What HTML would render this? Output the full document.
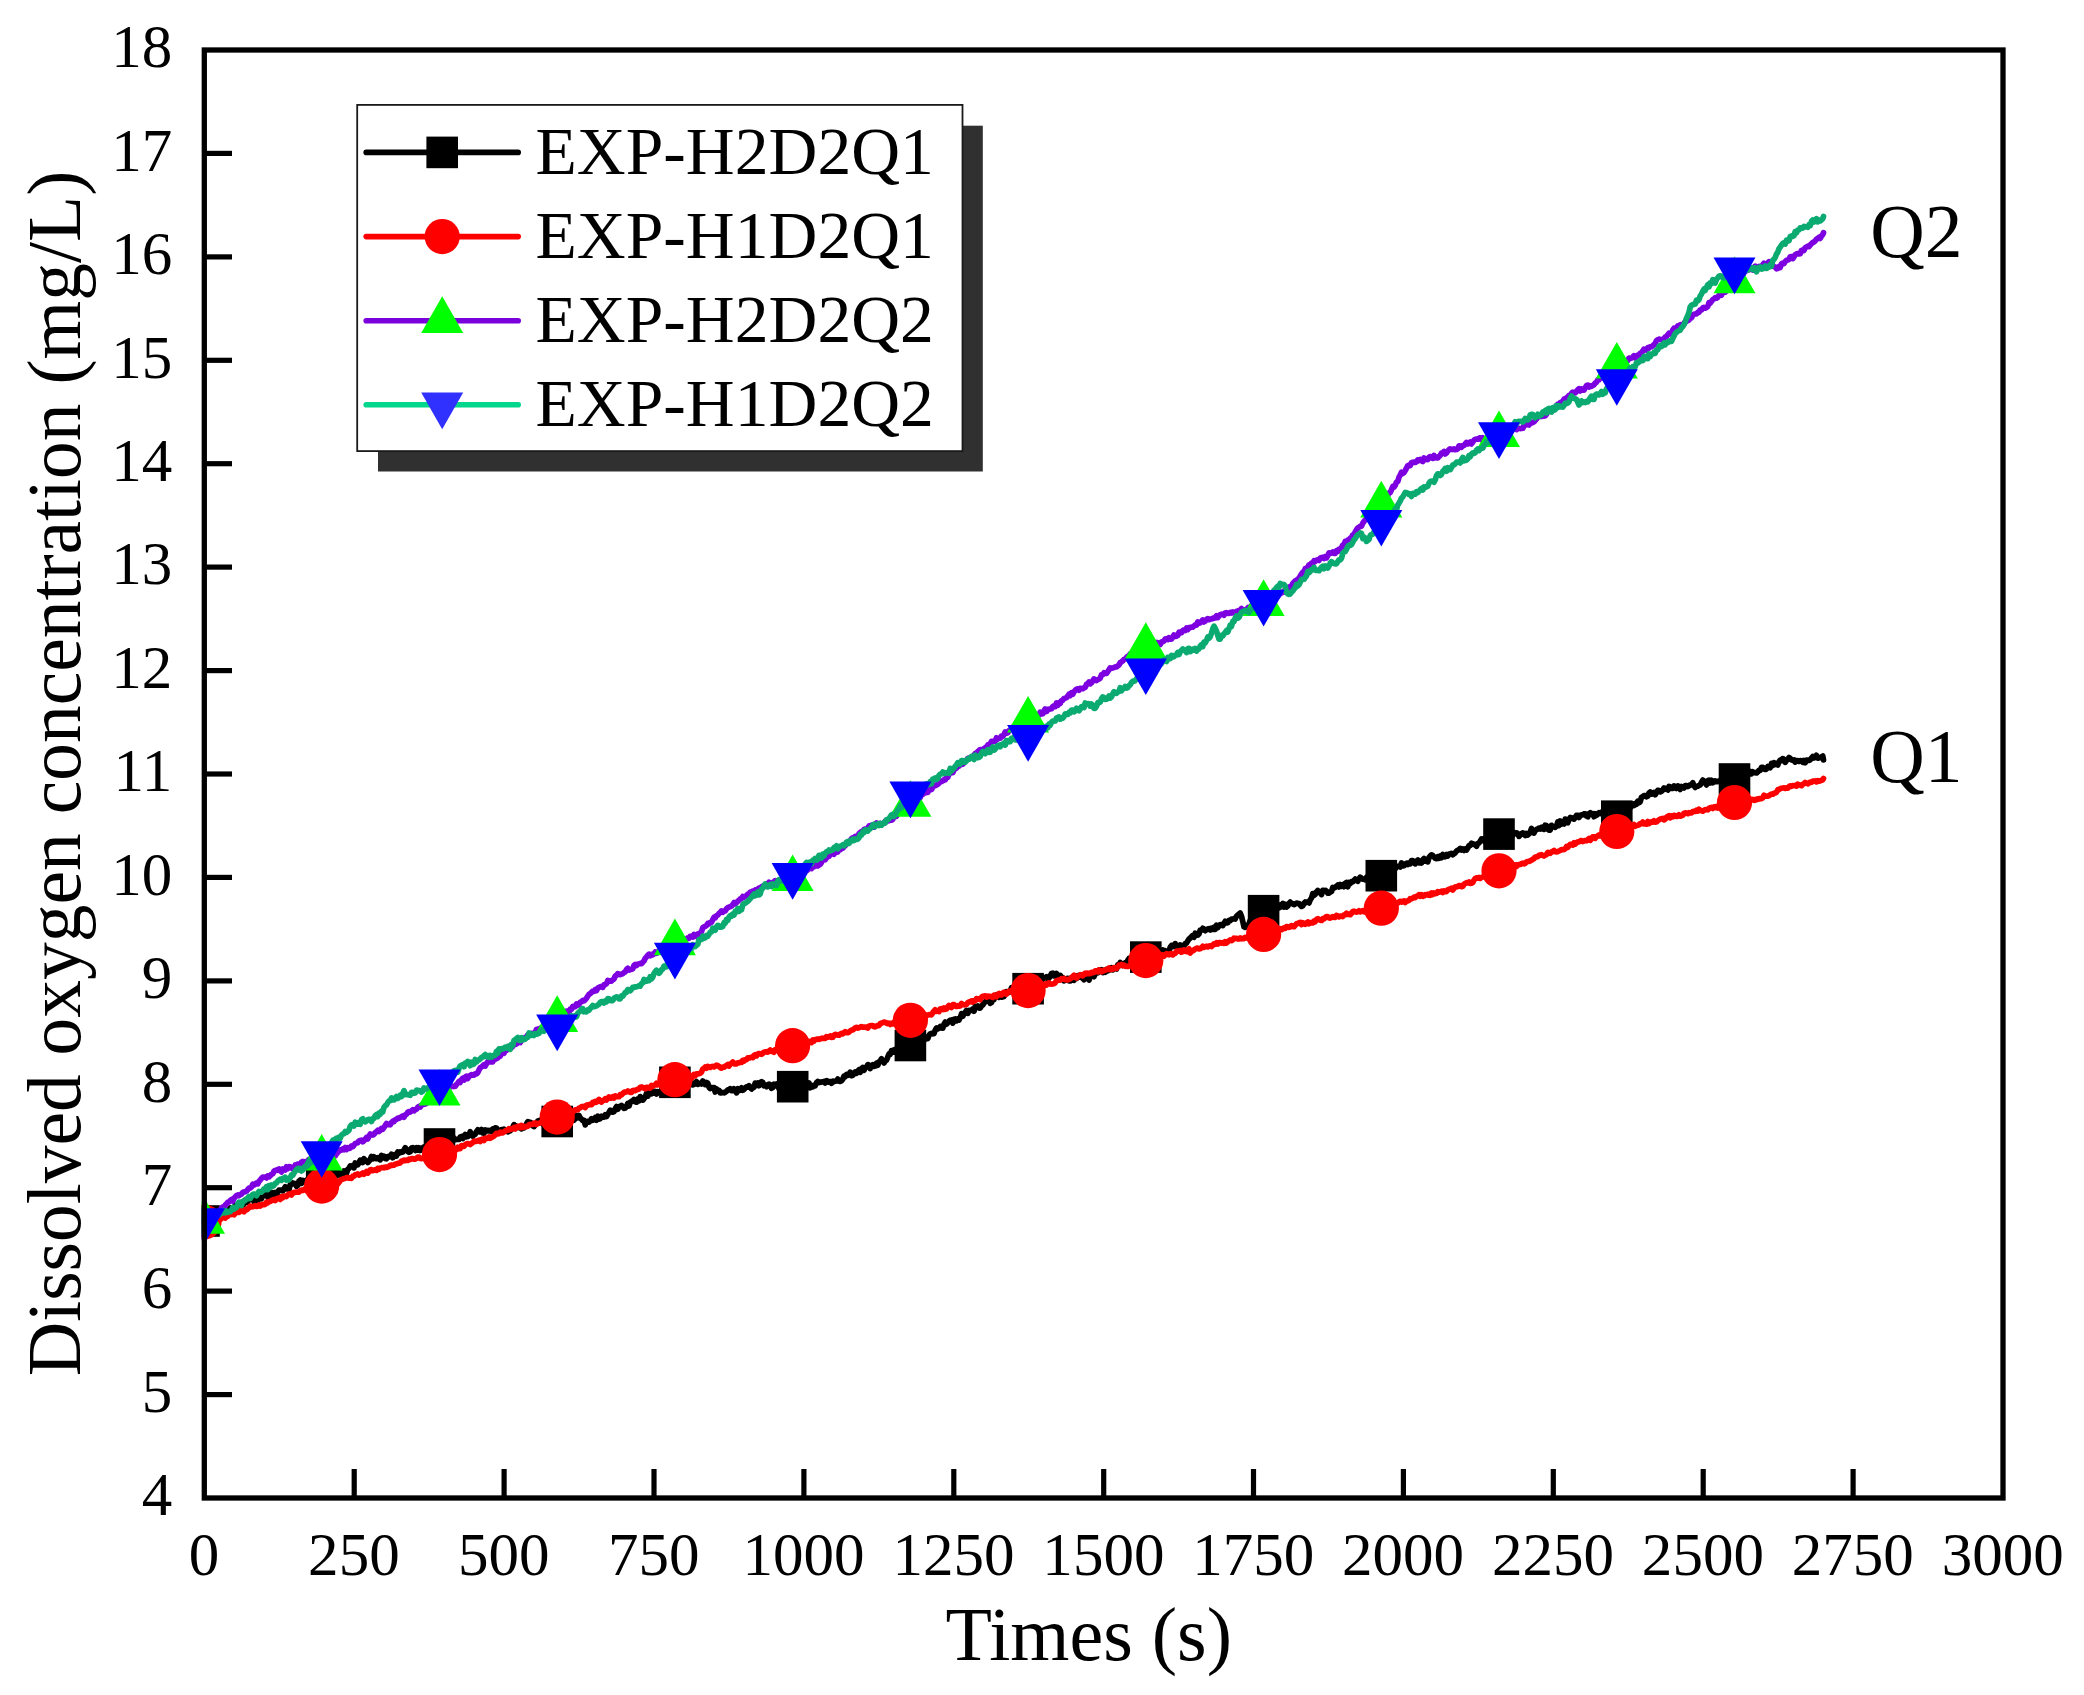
<!DOCTYPE html>
<html lang="en"><head><meta charset="utf-8"><title>Dissolved oxygen concentration</title>
<style>html,body{margin:0;padding:0;background:#fff}svg{display:block}text{font-family:'Liberation Serif',serif;fill:#000}</style></head><body>
<svg width="2084" height="1695" viewBox="0 0 2084 1695">
<rect width="2084" height="1695" fill="#fff"/>
<defs><clipPath id="plot"><rect x="201.7" y="50.0" width="1804.0" height="1448.0"/></clipPath></defs>
<g clip-path="url(#plot)">
<polyline fill="none" stroke="#000000" stroke-width="5.7" stroke-linejoin="round" stroke-linecap="round" points="204.0,1220.9 205.2,1222.6 206.5,1220.6 207.8,1218.1 209.0,1219.7 210.2,1216.5 211.5,1215.8 212.8,1217.3 214.0,1219.7 215.2,1218.2 216.5,1214.0 217.8,1213.9 219.0,1211.7 220.2,1210.1 221.5,1212.0 222.8,1212.6 224.0,1212.4 225.2,1211.3 226.5,1214.2 227.8,1213.8 229.0,1210.0 230.2,1208.0 231.5,1209.6 232.8,1210.0 234.0,1210.9 235.2,1205.3 236.5,1208.3 237.8,1208.9 239.0,1204.4 240.2,1206.1 241.5,1202.5 242.8,1206.2 244.0,1202.0 245.2,1200.0 246.5,1202.5 247.8,1201.7 249.0,1199.8 250.2,1198.9 251.5,1198.1 252.8,1197.7 254.0,1201.8 255.2,1199.6 256.5,1197.9 257.8,1200.6 259.0,1197.9 260.2,1196.7 261.5,1198.7 262.8,1195.8 264.0,1194.1 265.2,1194.3 266.5,1194.5 267.8,1197.2 269.0,1196.2 270.2,1192.9 271.5,1196.1 272.8,1192.6 274.0,1194.7 275.2,1192.6 276.5,1195.1 277.8,1192.2 279.0,1190.0 280.2,1190.1 281.5,1190.2 282.8,1190.9 284.0,1188.9 285.2,1186.8 286.5,1189.0 287.8,1188.9 289.0,1189.5 290.2,1184.6 291.5,1184.6 292.8,1182.9 294.0,1183.7 295.2,1183.5 296.5,1186.3 297.8,1185.2 299.0,1181.1 300.2,1180.0 301.5,1183.3 302.8,1180.4 304.0,1182.0 305.2,1182.0 306.5,1180.2 307.8,1183.4 309.0,1183.9 310.2,1184.5 311.5,1182.1 312.8,1184.3 314.0,1182.3 315.2,1183.5 316.5,1182.0 317.8,1181.2 319.0,1178.3 320.2,1182.3 321.5,1181.2 322.8,1180.8 324.0,1179.3 325.2,1176.9 326.5,1175.6 327.8,1176.7 329.0,1177.8 330.2,1178.0 331.5,1174.9 332.8,1174.5 334.0,1173.0 335.2,1176.4 336.5,1175.1 337.8,1174.0 339.0,1172.5 340.2,1175.6 341.5,1176.0 342.8,1174.0 344.0,1171.0 345.2,1173.8 346.5,1173.4 347.8,1169.4 349.0,1168.3 350.2,1165.9 351.5,1166.7 352.8,1165.4 354.0,1167.9 355.2,1162.9 356.5,1164.9 357.8,1164.8 359.0,1162.9 360.2,1160.1 361.5,1160.7 362.8,1162.5 364.0,1158.7 365.2,1160.3 366.5,1160.9 367.8,1162.5 369.0,1161.3 370.2,1159.4 371.5,1156.5 372.8,1158.7 374.0,1156.8 375.2,1158.4 376.5,1158.7 377.8,1157.7 379.0,1159.0 380.2,1159.8 381.5,1155.5 382.8,1157.4 384.0,1156.2 385.2,1158.5 386.5,1158.9 387.8,1156.7 389.0,1156.8 390.2,1156.3 391.5,1154.2 392.8,1157.7 394.0,1156.1 395.2,1154.6 396.5,1155.9 397.8,1151.9 399.0,1153.2 400.2,1151.9 401.5,1152.4 402.8,1152.0 404.0,1150.0 405.2,1147.7 406.5,1149.5 407.8,1151.6 409.0,1152.3 410.2,1151.7 411.5,1148.0 412.8,1147.6 414.0,1149.1 415.2,1150.4 416.5,1147.6 417.8,1150.1 419.0,1147.7 420.2,1150.5 421.5,1148.5 422.8,1147.7 424.0,1146.9 425.2,1148.7 426.5,1146.6 427.8,1146.6 429.0,1146.3 430.2,1145.5 431.5,1148.0 432.8,1144.7 434.0,1142.9 435.2,1146.4 436.5,1144.9 437.8,1143.2 439.0,1145.6 440.2,1144.6 441.5,1140.9 442.8,1142.1 444.0,1140.8 445.2,1139.2 446.5,1138.5 447.8,1138.2 449.0,1139.3 450.2,1138.4 451.5,1138.2 452.8,1136.7 454.0,1138.2 455.2,1139.7 456.5,1139.4 457.8,1139.3 459.0,1139.4 460.2,1137.1 461.5,1136.4 462.8,1138.5 464.0,1136.0 465.2,1134.5 466.5,1136.9 467.8,1136.5 469.0,1134.8 470.2,1131.7 471.5,1135.0 472.8,1136.3 474.0,1134.7 475.2,1134.3 476.5,1131.6 477.8,1129.8 479.0,1131.8 480.2,1131.7 481.5,1129.4 482.8,1133.0 484.0,1133.3 485.2,1129.9 486.5,1131.1 487.8,1130.3 489.0,1130.8 490.2,1130.4 491.5,1131.6 492.8,1128.9 494.0,1130.7 495.2,1127.9 496.5,1128.1 497.8,1130.8 499.0,1130.9 500.2,1130.1 501.5,1129.6 502.8,1131.8 504.0,1129.1 505.2,1130.8 506.5,1131.1 507.8,1131.9 509.0,1131.1 510.2,1130.7 511.5,1129.4 512.8,1127.2 514.0,1124.6 515.2,1127.2 516.5,1126.2 517.8,1127.4 519.0,1127.6 520.2,1126.6 521.5,1128.8 522.8,1127.9 524.0,1128.0 525.2,1126.5 526.5,1123.9 527.8,1121.6 529.0,1122.0 530.2,1122.2 531.5,1123.4 532.8,1125.8 534.0,1126.5 535.2,1124.8 536.5,1123.8 537.8,1121.1 539.0,1120.5 540.2,1120.3 541.5,1121.7 542.8,1123.9 544.0,1122.5 545.2,1120.9 546.5,1122.2 547.8,1121.0 549.0,1119.8 550.2,1118.8 551.5,1118.8 552.8,1120.6 554.0,1121.9 555.2,1124.4 556.5,1120.8 557.8,1121.2 559.0,1123.3 560.2,1122.2 561.5,1122.3 562.8,1123.8 564.0,1121.2 565.2,1120.5 566.5,1117.3 567.8,1117.5 569.0,1117.5 570.2,1116.9 571.5,1117.3 572.8,1118.3 574.0,1120.2 575.2,1118.5 576.5,1115.5 577.8,1117.8 579.0,1115.6 580.2,1117.9 581.5,1119.1 582.8,1120.6 584.0,1120.3 585.2,1124.9 586.5,1121.5 587.8,1121.4 589.0,1122.1 590.2,1121.0 591.5,1118.7 592.8,1120.2 594.0,1119.3 595.2,1117.6 596.5,1120.2 597.8,1116.3 599.0,1119.1 600.2,1118.7 601.5,1116.3 602.8,1117.2 604.0,1117.1 605.2,1114.8 606.5,1116.5 607.8,1114.4 609.0,1112.3 610.2,1110.3 611.5,1112.0 612.8,1112.2 614.0,1111.7 615.2,1108.8 616.5,1106.6 617.8,1109.3 619.0,1106.7 620.2,1106.6 621.5,1105.4 622.8,1106.8 624.0,1108.4 625.2,1108.0 626.5,1106.6 627.8,1103.4 629.0,1106.0 630.2,1102.3 631.5,1101.4 632.8,1100.8 634.0,1099.4 635.2,1101.8 636.5,1102.2 637.8,1099.0 639.0,1100.8 640.2,1096.6 641.5,1097.8 642.8,1100.1 644.0,1098.6 645.2,1097.2 646.5,1093.3 647.8,1096.1 649.0,1093.0 650.2,1092.5 651.5,1093.8 652.8,1092.1 654.0,1093.0 655.2,1091.6 656.5,1094.0 657.8,1091.7 659.0,1092.0 660.2,1092.3 661.5,1091.7 662.8,1091.6 664.0,1091.4 665.2,1091.4 666.5,1088.8 667.8,1088.8 669.0,1085.7 670.2,1087.0 671.5,1084.1 672.8,1082.1 674.0,1082.3 675.2,1080.3 676.5,1080.5 677.8,1083.2 679.0,1080.4 680.2,1083.1 681.5,1080.1 682.8,1079.9 684.0,1080.7 685.2,1082.2 686.5,1080.4 687.8,1080.5 689.0,1081.2 690.2,1083.9 691.5,1082.4 692.8,1084.9 694.0,1084.4 695.2,1083.2 696.5,1081.6 697.8,1084.4 699.0,1083.8 700.2,1083.1 701.5,1084.0 702.8,1081.0 704.0,1082.5 705.2,1084.5 706.5,1082.5 707.8,1083.3 709.0,1087.2 710.2,1088.5 711.5,1087.5 712.8,1087.7 714.0,1087.5 715.2,1092.0 716.5,1088.8 717.8,1090.7 719.0,1090.3 720.2,1092.9 721.5,1092.8 722.8,1092.6 724.0,1092.8 725.2,1092.3 726.5,1091.3 727.8,1089.9 729.0,1090.0 730.2,1088.7 731.5,1090.6 732.8,1090.6 734.0,1088.8 735.2,1090.7 736.5,1092.8 737.8,1088.7 739.0,1090.6 740.2,1090.1 741.5,1087.8 742.8,1090.3 744.0,1089.5 745.2,1088.1 746.5,1086.8 747.8,1087.1 749.0,1085.7 750.2,1087.5 751.5,1089.0 752.8,1087.8 754.0,1087.3 755.2,1083.1 756.5,1085.3 757.8,1082.9 759.0,1085.7 760.2,1082.4 761.5,1081.7 762.8,1082.5 764.0,1085.7 765.2,1084.9 766.5,1086.7 767.8,1085.0 769.0,1084.1 770.2,1084.6 771.5,1088.2 772.8,1087.7 774.0,1084.1 775.2,1085.2 776.5,1084.1 777.8,1086.4 779.0,1088.6 780.2,1086.1 781.5,1089.1 782.8,1087.0 784.0,1085.7 785.2,1089.4 786.5,1089.4 787.8,1087.3 789.0,1088.0 790.2,1085.1 791.5,1087.2 792.8,1087.0 794.0,1086.7 795.2,1086.0 796.5,1086.0 797.8,1087.7 799.0,1087.6 800.2,1090.0 801.5,1089.8 802.8,1086.5 804.0,1086.7 805.2,1086.1 806.5,1088.1 807.8,1086.5 809.0,1083.0 810.2,1087.8 811.5,1086.7 812.8,1086.8 814.0,1085.1 815.2,1085.7 816.5,1082.8 817.8,1081.4 819.0,1082.6 820.2,1082.2 821.5,1082.1 822.8,1081.7 824.0,1081.4 825.2,1083.0 826.5,1080.7 827.8,1081.2 829.0,1082.2 830.2,1081.6 831.5,1083.3 832.8,1081.1 834.0,1081.7 835.2,1081.2 836.5,1080.9 837.8,1079.0 839.0,1081.2 840.2,1081.4 841.5,1080.9 842.8,1079.1 844.0,1076.1 845.2,1076.7 846.5,1074.4 847.8,1075.3 849.0,1073.9 850.2,1072.2 851.5,1075.7 852.8,1075.3 854.0,1073.8 855.2,1072.1 856.5,1073.3 857.8,1070.9 859.0,1069.7 860.2,1072.3 861.5,1068.8 862.8,1067.4 864.0,1070.3 865.2,1067.7 866.5,1067.0 867.8,1064.6 869.0,1064.9 870.2,1068.5 871.5,1065.9 872.8,1064.8 874.0,1066.4 875.2,1066.0 876.5,1063.2 877.8,1065.2 879.0,1061.8 880.2,1061.0 881.5,1058.8 882.8,1061.1 884.0,1062.9 885.2,1061.0 886.5,1060.3 887.8,1056.9 889.0,1054.0 890.2,1054.4 891.5,1050.7 892.8,1052.0 894.0,1050.1 895.2,1052.1 896.5,1048.6 897.8,1051.4 899.0,1048.6 900.2,1047.4 901.5,1048.3 902.8,1047.8 904.0,1047.7 905.2,1046.2 906.5,1044.2 907.8,1046.5 909.0,1044.6 910.2,1044.0 911.5,1046.5 912.8,1044.6 914.0,1043.9 915.2,1043.0 916.5,1043.0 917.8,1041.7 919.0,1042.9 920.2,1041.9 921.5,1041.8 922.8,1042.1 924.0,1040.4 925.2,1038.5 926.5,1037.3 927.8,1038.6 929.0,1035.3 930.2,1033.9 931.5,1033.4 932.8,1033.8 934.0,1033.6 935.2,1030.1 936.5,1027.9 937.8,1028.8 939.0,1028.0 940.2,1026.6 941.5,1027.9 942.8,1028.2 944.0,1024.2 945.2,1022.1 946.5,1024.2 947.8,1022.6 949.0,1021.3 950.2,1020.3 951.5,1020.0 952.8,1023.1 954.0,1019.2 955.2,1018.9 956.5,1020.8 957.8,1019.1 959.0,1020.0 960.2,1017.6 961.5,1013.8 962.8,1016.2 964.0,1013.7 965.2,1012.3 966.5,1010.5 967.8,1013.4 969.0,1010.4 970.2,1010.5 971.5,1010.4 972.8,1008.9 974.0,1011.3 975.2,1006.5 976.5,1007.3 977.8,1006.1 979.0,1008.1 980.2,1008.1 981.5,1005.8 982.8,1004.9 984.0,1003.0 985.2,1001.9 986.5,1000.6 987.8,1000.1 989.0,1000.0 990.2,1003.3 991.5,1002.6 992.8,999.1 994.0,999.5 995.2,996.5 996.5,994.9 997.8,996.2 999.0,997.3 1000.2,995.0 1001.5,997.1 1002.8,996.9 1004.0,996.5 1005.2,993.2 1006.5,991.6 1007.8,992.4 1009.0,992.4 1010.2,991.1 1011.5,987.8 1012.8,988.6 1014.0,986.8 1015.2,987.1 1016.5,988.1 1017.8,989.0 1019.0,985.9 1020.2,986.4 1021.5,986.9 1022.8,989.1 1024.0,986.8 1025.2,985.2 1026.5,984.5 1027.8,987.6 1029.0,989.6 1030.2,988.9 1031.5,986.1 1032.8,987.8 1034.0,988.1 1035.2,985.9 1036.5,983.9 1037.8,981.0 1039.0,981.3 1040.2,980.2 1041.5,980.3 1042.8,979.0 1044.0,977.9 1045.2,977.9 1046.5,976.7 1047.8,978.8 1049.0,978.2 1050.2,976.1 1051.5,973.5 1052.8,973.1 1054.0,975.9 1055.2,975.1 1056.5,973.4 1057.8,977.8 1059.0,976.2 1060.2,975.4 1061.5,978.2 1062.8,977.6 1064.0,980.9 1065.2,980.2 1066.5,978.7 1067.8,978.3 1069.0,980.9 1070.2,981.0 1071.5,977.5 1072.8,977.3 1074.0,980.3 1075.2,977.0 1076.5,978.6 1077.8,975.6 1079.0,976.3 1080.2,977.2 1081.5,977.7 1082.8,978.2 1084.0,979.7 1085.2,977.5 1086.5,976.6 1087.8,978.2 1089.0,980.1 1090.2,976.2 1091.5,976.5 1092.8,975.3 1094.0,976.7 1095.2,973.8 1096.5,972.9 1097.8,972.9 1099.0,970.1 1100.2,970.0 1101.5,969.7 1102.8,972.6 1104.0,970.5 1105.2,972.2 1106.5,969.4 1107.8,970.9 1109.0,970.2 1110.2,969.6 1111.5,967.7 1112.8,969.8 1114.0,968.2 1115.2,968.4 1116.5,969.0 1117.8,964.8 1119.0,965.7 1120.2,962.4 1121.5,964.2 1122.8,965.4 1124.0,963.9 1125.2,962.8 1126.5,964.5 1127.8,960.4 1129.0,958.6 1130.2,959.4 1131.5,962.2 1132.8,958.8 1134.0,959.1 1135.2,957.9 1136.5,960.3 1137.8,957.8 1139.0,959.1 1140.2,960.8 1141.5,959.7 1142.8,959.1 1144.0,955.2 1145.2,957.7 1146.5,955.5 1147.8,953.5 1149.0,953.8 1150.2,954.0 1151.5,952.1 1152.8,951.9 1154.0,949.7 1155.2,953.3 1156.5,949.7 1157.8,951.7 1159.0,951.1 1160.2,951.8 1161.5,953.3 1162.8,949.9 1164.0,952.0 1165.2,950.8 1166.5,953.6 1167.8,951.9 1169.0,951.6 1170.2,947.2 1171.5,945.6 1172.8,946.6 1174.0,946.1 1175.2,943.6 1176.5,946.7 1177.8,945.8 1179.0,946.7 1180.2,944.9 1181.5,946.5 1182.8,946.4 1184.0,945.8 1185.2,943.7 1186.5,943.1 1187.8,940.8 1189.0,939.0 1190.2,938.1 1191.5,936.6 1192.8,935.4 1194.0,937.3 1195.2,933.2 1196.5,934.8 1197.8,935.1 1199.0,934.0 1200.2,930.1 1201.5,930.2 1202.8,928.3 1204.0,929.3 1205.2,930.7 1206.5,929.4 1207.8,929.5 1209.0,928.6 1210.2,929.9 1211.5,928.2 1212.8,929.2 1214.0,927.2 1215.2,929.3 1216.5,925.3 1217.8,927.5 1219.0,925.8 1220.2,924.7 1221.5,924.7 1222.8,925.6 1224.0,923.7 1225.2,921.3 1226.5,922.9 1227.8,922.6 1229.0,920.3 1230.2,920.6 1231.5,919.1 1232.8,919.1 1234.0,918.8 1235.2,919.1 1236.5,916.2 1237.8,914.9 1239.0,914.1 1240.2,912.9 1241.5,916.3 1242.8,921.6 1244.0,926.8 1245.2,927.4 1246.5,925.9 1247.8,925.0 1249.0,924.0 1250.2,920.3 1251.5,919.6 1252.8,920.2 1254.0,917.1 1255.2,914.6 1256.5,916.9 1257.8,914.5 1259.0,916.5 1260.2,915.2 1261.5,914.6 1262.8,911.1 1264.0,908.0 1265.2,911.9 1266.5,908.2 1267.8,909.1 1269.0,910.7 1270.2,908.6 1271.5,908.4 1272.8,911.6 1274.0,908.8 1275.2,908.0 1276.5,907.0 1277.8,907.6 1279.0,907.9 1280.2,904.9 1281.5,906.7 1282.8,903.5 1284.0,907.0 1285.2,904.3 1286.5,907.1 1287.8,906.1 1289.0,903.4 1290.2,902.1 1291.5,903.6 1292.8,903.5 1294.0,904.6 1295.2,904.0 1296.5,903.1 1297.8,903.4 1299.0,903.6 1300.2,905.1 1301.5,906.4 1302.8,905.7 1304.0,903.1 1305.2,902.0 1306.5,902.6 1307.8,901.9 1309.0,902.9 1310.2,899.9 1311.5,898.0 1312.8,893.6 1314.0,895.4 1315.2,894.4 1316.5,891.9 1317.8,890.5 1319.0,891.7 1320.2,892.8 1321.5,894.6 1322.8,890.3 1324.0,890.8 1325.2,890.3 1326.5,891.1 1327.8,893.2 1329.0,893.1 1330.2,892.1 1331.5,891.5 1332.8,887.5 1334.0,888.0 1335.2,887.4 1336.5,886.3 1337.8,885.1 1339.0,886.9 1340.2,884.5 1341.5,886.2 1342.8,884.8 1344.0,886.7 1345.2,883.5 1346.5,882.4 1347.8,886.8 1349.0,882.4 1350.2,883.5 1351.5,881.7 1352.8,881.7 1354.0,880.4 1355.2,879.1 1356.5,880.2 1357.8,881.2 1359.0,878.8 1360.2,877.2 1361.5,878.3 1362.8,879.2 1364.0,879.0 1365.2,879.7 1366.5,877.2 1367.8,879.6 1369.0,876.8 1370.2,875.4 1371.5,878.1 1372.8,875.6 1374.0,873.6 1375.2,875.3 1376.5,877.6 1377.8,874.6 1379.0,873.5 1380.2,874.0 1381.5,874.7 1382.8,876.5 1384.0,877.8 1385.2,876.0 1386.5,873.8 1387.8,874.2 1389.0,871.9 1390.2,871.3 1391.5,870.4 1392.8,868.4 1394.0,867.3 1395.2,868.8 1396.5,866.5 1397.8,866.2 1399.0,866.0 1400.2,867.0 1401.5,863.0 1402.8,865.9 1404.0,865.7 1405.2,864.2 1406.5,863.3 1407.8,864.4 1409.0,862.9 1410.2,863.8 1411.5,860.6 1412.8,860.5 1414.0,863.1 1415.2,863.8 1416.5,861.2 1417.8,860.1 1419.0,862.8 1420.2,861.2 1421.5,863.0 1422.8,859.8 1424.0,858.6 1425.2,861.2 1426.5,860.9 1427.8,861.8 1429.0,857.6 1430.2,856.1 1431.5,854.8 1432.8,855.5 1434.0,856.9 1435.2,858.3 1436.5,858.6 1437.8,856.8 1439.0,858.3 1440.2,856.0 1441.5,857.8 1442.8,854.5 1444.0,855.3 1445.2,856.8 1446.5,854.6 1447.8,855.9 1449.0,854.1 1450.2,853.9 1451.5,853.3 1452.8,854.7 1454.0,853.8 1455.2,852.9 1456.5,851.0 1457.8,850.3 1459.0,849.5 1460.2,848.4 1461.5,850.0 1462.8,849.0 1464.0,850.4 1465.2,849.0 1466.5,850.0 1467.8,848.0 1469.0,845.5 1470.2,845.5 1471.5,843.2 1472.8,844.0 1474.0,844.1 1475.2,845.0 1476.5,846.2 1477.8,843.4 1479.0,843.1 1480.2,841.1 1481.5,839.0 1482.8,840.6 1484.0,838.8 1485.2,841.7 1486.5,840.6 1487.8,839.6 1489.0,836.3 1490.2,836.6 1491.5,837.6 1492.8,838.8 1494.0,837.3 1495.2,838.4 1496.5,835.4 1497.8,835.9 1499.0,832.5 1500.2,833.1 1501.5,831.8 1502.8,830.9 1504.0,831.1 1505.2,831.4 1506.5,834.0 1507.8,835.5 1509.0,834.5 1510.2,834.9 1511.5,835.3 1512.8,835.4 1514.0,832.5 1515.2,833.5 1516.5,832.8 1517.8,833.6 1519.0,836.4 1520.2,834.9 1521.5,833.5 1522.8,832.9 1524.0,834.4 1525.2,835.5 1526.5,833.6 1527.8,835.0 1529.0,833.9 1530.2,832.0 1531.5,828.5 1532.8,832.6 1534.0,833.1 1535.2,830.6 1536.5,829.5 1537.8,829.0 1539.0,828.1 1540.2,828.9 1541.5,827.2 1542.8,827.0 1544.0,829.4 1545.2,825.2 1546.5,825.5 1547.8,829.1 1549.0,830.2 1550.2,830.1 1551.5,825.3 1552.8,826.8 1554.0,826.9 1555.2,827.4 1556.5,826.0 1557.8,821.9 1559.0,825.6 1560.2,820.9 1561.5,824.0 1562.8,822.9 1564.0,823.9 1565.2,819.1 1566.5,822.5 1567.8,822.8 1569.0,819.7 1570.2,817.5 1571.5,817.8 1572.8,818.5 1574.0,819.1 1575.2,817.3 1576.5,815.4 1577.8,815.3 1579.0,817.5 1580.2,815.4 1581.5,814.8 1582.8,815.0 1584.0,813.9 1585.2,813.8 1586.5,816.1 1587.8,816.8 1589.0,813.6 1590.2,812.8 1591.5,814.2 1592.8,813.6 1594.0,816.7 1595.2,813.8 1596.5,815.4 1597.8,813.6 1599.0,812.6 1600.2,813.7 1601.5,813.4 1602.8,811.1 1604.0,811.8 1605.2,814.5 1606.5,812.7 1607.8,816.8 1609.0,815.3 1610.2,814.2 1611.5,817.4 1612.8,814.8 1614.0,818.3 1615.2,819.4 1616.5,816.4 1617.8,815.3 1619.0,812.4 1620.2,811.9 1621.5,810.6 1622.8,809.0 1624.0,810.3 1625.2,811.1 1626.5,811.0 1627.8,806.3 1629.0,805.6 1630.2,807.9 1631.5,803.8 1632.8,804.0 1634.0,805.5 1635.2,803.5 1636.5,804.2 1637.8,801.1 1639.0,802.7 1640.2,801.7 1641.5,797.1 1642.8,796.7 1644.0,795.6 1645.2,795.7 1646.5,796.9 1647.8,796.1 1649.0,793.1 1650.2,791.9 1651.5,794.1 1652.8,793.9 1654.0,792.5 1655.2,794.8 1656.5,792.6 1657.8,790.3 1659.0,790.6 1660.2,791.9 1661.5,791.2 1662.8,790.1 1664.0,787.9 1665.2,789.2 1666.5,788.5 1667.8,790.0 1669.0,786.5 1670.2,787.0 1671.5,788.5 1672.8,788.5 1674.0,785.9 1675.2,786.6 1676.5,788.5 1677.8,785.9 1679.0,787.2 1680.2,789.4 1681.5,786.5 1682.8,787.2 1684.0,788.0 1685.2,785.6 1686.5,785.7 1687.8,786.5 1689.0,785.8 1690.2,784.8 1691.5,784.9 1692.8,782.7 1694.0,785.7 1695.2,787.5 1696.5,786.3 1697.8,786.1 1699.0,785.5 1700.2,784.9 1701.5,782.3 1702.8,780.1 1704.0,781.3 1705.2,783.1 1706.5,784.9 1707.8,780.7 1709.0,780.2 1710.2,783.0 1711.5,780.3 1712.8,782.8 1714.0,781.5 1715.2,780.8 1716.5,781.7 1717.8,781.7 1719.0,780.9 1720.2,780.8 1721.5,779.1 1722.8,776.3 1724.0,779.3 1725.2,779.9 1726.5,780.2 1727.8,778.0 1729.0,777.2 1730.2,780.1 1731.5,779.5 1732.8,781.6 1734.0,782.6 1735.2,782.9 1736.5,778.8 1737.8,778.4 1739.0,776.0 1740.2,777.3 1741.5,777.8 1742.8,775.1 1744.0,773.9 1745.2,771.7 1746.5,772.6 1747.8,775.7 1749.0,773.2 1750.2,771.4 1751.5,773.7 1752.8,771.8 1754.0,772.7 1755.2,772.7 1756.5,773.0 1757.8,771.9 1759.0,770.4 1760.2,770.4 1761.5,767.4 1762.8,767.3 1764.0,768.9 1765.2,769.5 1766.5,769.0 1767.8,766.5 1769.0,766.8 1770.2,767.8 1771.5,763.5 1772.8,765.4 1774.0,762.7 1775.2,764.5 1776.5,763.9 1777.8,764.9 1779.0,761.8 1780.2,760.2 1781.5,760.7 1782.8,758.6 1784.0,759.2 1785.2,762.3 1786.5,760.4 1787.8,759.5 1789.0,757.5 1790.2,758.4 1791.5,759.8 1792.8,760.3 1794.0,760.0 1795.2,762.0 1796.5,760.6 1797.8,760.5 1799.0,761.3 1800.2,760.5 1801.5,760.7 1802.8,762.3 1804.0,760.4 1805.2,762.7 1806.5,760.1 1807.8,760.2 1809.0,760.5 1810.2,759.8 1811.5,758.1 1812.8,756.5 1814.0,758.0 1815.2,757.4 1816.5,755.3 1817.8,758.2 1819.0,757.8 1820.2,757.6 1821.5,756.9 1822.8,756.0 1823.5,759.9"/>
<g fill="#000000">
<rect x="188.2" y="1205.2" width="31.6" height="31.6"/>
<rect x="305.9" y="1162.2" width="31.6" height="31.6"/>
<rect x="423.7" y="1128.2" width="31.6" height="31.6"/>
<rect x="541.4" y="1105.7" width="31.6" height="31.6"/>
<rect x="659.1" y="1066.5" width="31.6" height="31.6"/>
<rect x="776.9" y="1070.9" width="31.6" height="31.6"/>
<rect x="894.6" y="1029.7" width="31.6" height="31.6"/>
<rect x="1012.3" y="972.9" width="31.6" height="31.6"/>
<rect x="1130.0" y="941.3" width="31.6" height="31.6"/>
<rect x="1247.8" y="894.9" width="31.6" height="31.6"/>
<rect x="1365.5" y="859.9" width="31.6" height="31.6"/>
<rect x="1483.2" y="818.3" width="31.6" height="31.6"/>
<rect x="1601.0" y="800.4" width="31.6" height="31.6"/>
<rect x="1718.7" y="763.2" width="31.6" height="31.6"/>
</g>
<polyline fill="none" stroke="#ff0000" stroke-width="5.7" stroke-linejoin="round" stroke-linecap="round" points="204.0,1222.9 205.2,1220.8 206.5,1220.0 207.8,1220.8 209.0,1221.3 210.2,1221.3 211.5,1220.5 212.8,1220.6 214.0,1219.9 215.2,1220.1 216.5,1218.1 217.8,1219.0 219.0,1219.5 220.2,1219.4 221.5,1218.4 222.8,1217.1 224.0,1216.7 225.2,1218.1 226.5,1216.2 227.8,1216.4 229.0,1214.4 230.2,1213.9 231.5,1214.6 232.8,1214.2 234.0,1214.9 235.2,1213.3 236.5,1212.4 237.8,1212.4 239.0,1212.4 240.2,1210.9 241.5,1210.6 242.8,1210.7 244.0,1211.7 245.2,1209.7 246.5,1210.0 247.8,1208.8 249.0,1207.5 250.2,1206.1 251.5,1206.8 252.8,1206.7 254.0,1206.3 255.2,1205.6 256.5,1206.5 257.8,1206.3 259.0,1205.1 260.2,1206.1 261.5,1204.7 262.8,1204.4 264.0,1204.7 265.2,1204.3 266.5,1202.1 267.8,1202.8 269.0,1201.6 270.2,1201.4 271.5,1200.4 272.8,1200.3 274.0,1199.4 275.2,1200.5 276.5,1198.7 277.8,1198.4 279.0,1198.0 280.2,1199.4 281.5,1196.8 282.8,1197.7 284.0,1196.0 285.2,1196.0 286.5,1196.5 287.8,1194.9 289.0,1193.9 290.2,1194.3 291.5,1195.0 292.8,1192.6 294.0,1192.8 295.2,1192.1 296.5,1192.1 297.8,1192.1 299.0,1192.1 300.2,1190.8 301.5,1190.1 302.8,1190.5 304.0,1189.5 305.2,1188.8 306.5,1190.4 307.8,1189.4 309.0,1189.0 310.2,1187.8 311.5,1189.0 312.8,1188.9 314.0,1189.1 315.2,1187.8 316.5,1188.1 317.8,1187.4 319.0,1185.3 320.2,1185.2 321.5,1185.8 322.8,1184.7 324.0,1186.1 325.2,1185.5 326.5,1184.0 327.8,1185.2 329.0,1185.1 330.2,1182.6 331.5,1183.3 332.8,1184.1 334.0,1183.4 335.2,1182.5 336.5,1183.6 337.8,1183.7 339.0,1182.4 340.2,1180.5 341.5,1179.5 342.8,1179.1 344.0,1178.5 345.2,1178.4 346.5,1177.5 347.8,1177.5 349.0,1178.2 350.2,1177.8 351.5,1178.4 352.8,1176.2 354.0,1176.2 355.2,1174.8 356.5,1174.4 357.8,1173.9 359.0,1175.1 360.2,1174.6 361.5,1173.9 362.8,1173.0 364.0,1174.2 365.2,1173.1 366.5,1171.6 367.8,1173.1 369.0,1171.7 370.2,1169.8 371.5,1169.6 372.8,1170.7 374.0,1170.2 375.2,1169.8 376.5,1170.4 377.8,1168.4 379.0,1169.2 380.2,1168.0 381.5,1167.8 382.8,1167.5 384.0,1167.8 385.2,1167.0 386.5,1167.5 387.8,1166.9 389.0,1166.6 390.2,1165.3 391.5,1165.2 392.8,1165.3 394.0,1165.1 395.2,1164.0 396.5,1164.0 397.8,1163.4 399.0,1163.2 400.2,1162.9 401.5,1161.0 402.8,1161.0 404.0,1160.1 405.2,1160.7 406.5,1160.2 407.8,1160.4 409.0,1159.2 410.2,1159.5 411.5,1158.5 412.8,1158.5 414.0,1159.1 415.2,1159.1 416.5,1158.3 417.8,1157.1 419.0,1157.1 420.2,1158.5 421.5,1158.6 422.8,1158.1 424.0,1157.5 425.2,1157.1 426.5,1156.8 427.8,1156.3 429.0,1158.0 430.2,1158.3 431.5,1156.7 432.8,1157.7 434.0,1156.2 435.2,1154.7 436.5,1156.1 437.8,1154.8 439.0,1155.3 440.2,1154.0 441.5,1152.9 442.8,1153.2 444.0,1152.9 445.2,1151.0 446.5,1151.2 447.8,1152.4 449.0,1151.2 450.2,1151.5 451.5,1149.5 452.8,1148.7 454.0,1148.4 455.2,1149.4 456.5,1149.6 457.8,1147.2 459.0,1148.4 460.2,1148.6 461.5,1145.6 462.8,1145.8 464.0,1146.4 465.2,1144.8 466.5,1143.8 467.8,1143.6 469.0,1143.9 470.2,1144.5 471.5,1143.4 472.8,1142.4 474.0,1141.2 475.2,1141.2 476.5,1141.4 477.8,1140.6 479.0,1140.2 480.2,1141.4 481.5,1139.3 482.8,1139.2 484.0,1140.4 485.2,1138.2 486.5,1138.5 487.8,1138.2 489.0,1136.9 490.2,1138.3 491.5,1137.6 492.8,1136.8 494.0,1136.1 495.2,1134.8 496.5,1133.4 497.8,1133.8 499.0,1133.7 500.2,1132.2 501.5,1132.8 502.8,1132.9 504.0,1131.9 505.2,1131.0 506.5,1130.2 507.8,1130.3 509.0,1128.7 510.2,1129.5 511.5,1128.7 512.8,1128.9 514.0,1127.6 515.2,1128.9 516.5,1127.3 517.8,1126.5 519.0,1126.2 520.2,1127.6 521.5,1125.5 522.8,1127.4 524.0,1126.3 525.2,1126.8 526.5,1126.3 527.8,1126.3 529.0,1124.8 530.2,1124.4 531.5,1124.3 532.8,1124.4 534.0,1123.1 535.2,1123.1 536.5,1124.3 537.8,1123.4 539.0,1123.2 540.2,1122.9 541.5,1121.9 542.8,1122.2 544.0,1122.6 545.2,1122.6 546.5,1121.1 547.8,1119.1 549.0,1120.4 550.2,1120.0 551.5,1119.3 552.8,1118.5 554.0,1117.9 555.2,1116.2 556.5,1115.8 557.8,1116.0 559.0,1114.3 560.2,1115.9 561.5,1115.9 562.8,1114.1 564.0,1112.9 565.2,1113.7 566.5,1113.2 567.8,1113.0 569.0,1113.9 570.2,1114.5 571.5,1111.9 572.8,1112.0 574.0,1110.7 575.2,1109.8 576.5,1109.9 577.8,1109.6 579.0,1108.1 580.2,1107.7 581.5,1106.8 582.8,1106.4 584.0,1106.9 585.2,1107.6 586.5,1105.1 587.8,1105.4 589.0,1104.7 590.2,1104.3 591.5,1104.7 592.8,1102.5 594.0,1102.8 595.2,1101.5 596.5,1102.2 597.8,1100.7 599.0,1099.4 600.2,1101.2 601.5,1102.0 602.8,1100.6 604.0,1100.2 605.2,1098.8 606.5,1099.9 607.8,1098.3 609.0,1096.9 610.2,1098.1 611.5,1098.1 612.8,1096.8 614.0,1098.0 615.2,1095.9 616.5,1096.5 617.8,1096.7 619.0,1096.7 620.2,1094.7 621.5,1095.0 622.8,1093.5 624.0,1092.5 625.2,1092.0 626.5,1091.9 627.8,1091.0 629.0,1091.6 630.2,1092.3 631.5,1092.3 632.8,1090.5 634.0,1090.4 635.2,1090.6 636.5,1090.0 637.8,1089.2 639.0,1089.1 640.2,1087.2 641.5,1087.0 642.8,1087.5 644.0,1088.1 645.2,1088.8 646.5,1087.4 647.8,1087.3 649.0,1087.9 650.2,1088.1 651.5,1085.5 652.8,1086.1 654.0,1085.2 655.2,1085.0 656.5,1083.3 657.8,1084.7 659.0,1083.9 660.2,1082.8 661.5,1083.3 662.8,1083.7 664.0,1082.9 665.2,1083.5 666.5,1082.8 667.8,1082.7 669.0,1083.6 670.2,1081.2 671.5,1080.7 672.8,1079.9 674.0,1081.5 675.2,1080.3 676.5,1081.4 677.8,1079.5 679.0,1081.0 680.2,1079.5 681.5,1078.8 682.8,1079.2 684.0,1079.4 685.2,1080.2 686.5,1080.0 687.8,1080.1 689.0,1078.2 690.2,1077.4 691.5,1078.3 692.8,1075.9 694.0,1074.4 695.2,1075.7 696.5,1073.8 697.8,1073.8 699.0,1073.7 700.2,1073.2 701.5,1072.1 702.8,1069.0 704.0,1068.4 705.2,1067.0 706.5,1068.3 707.8,1066.4 709.0,1066.9 710.2,1067.4 711.5,1066.5 712.8,1066.4 714.0,1066.9 715.2,1066.3 716.5,1065.2 717.8,1065.5 719.0,1066.3 720.2,1067.6 721.5,1068.2 722.8,1067.0 724.0,1067.2 725.2,1066.2 726.5,1065.6 727.8,1064.6 729.0,1066.0 730.2,1064.2 731.5,1063.3 732.8,1062.0 734.0,1063.7 735.2,1064.0 736.5,1063.9 737.8,1062.8 739.0,1062.8 740.2,1062.1 741.5,1062.4 742.8,1060.4 744.0,1061.1 745.2,1059.5 746.5,1059.6 747.8,1057.8 749.0,1058.1 750.2,1057.7 751.5,1057.2 752.8,1057.7 754.0,1055.4 755.2,1054.7 756.5,1055.8 757.8,1053.9 759.0,1053.5 760.2,1054.0 761.5,1054.4 762.8,1053.3 764.0,1052.3 765.2,1051.9 766.5,1051.7 767.8,1052.2 769.0,1051.1 770.2,1050.0 771.5,1051.3 772.8,1050.9 774.0,1052.2 775.2,1049.6 776.5,1050.3 777.8,1049.9 779.0,1049.8 780.2,1049.8 781.5,1048.1 782.8,1047.7 784.0,1047.0 785.2,1047.7 786.5,1045.8 787.8,1046.7 789.0,1045.1 790.2,1046.7 791.5,1046.4 792.8,1046.7 794.0,1045.6 795.2,1044.7 796.5,1044.9 797.8,1044.2 799.0,1042.7 800.2,1044.3 801.5,1042.2 802.8,1043.5 804.0,1041.8 805.2,1042.4 806.5,1042.9 807.8,1042.5 809.0,1041.3 810.2,1041.8 811.5,1042.6 812.8,1039.9 814.0,1041.0 815.2,1039.6 816.5,1039.5 817.8,1039.0 819.0,1039.3 820.2,1038.8 821.5,1038.3 822.8,1038.2 824.0,1038.4 825.2,1038.5 826.5,1036.6 827.8,1037.1 829.0,1036.9 830.2,1035.9 831.5,1037.5 832.8,1037.3 834.0,1035.1 835.2,1034.4 836.5,1034.7 837.8,1035.1 839.0,1035.2 840.2,1034.2 841.5,1033.3 842.8,1033.8 844.0,1032.8 845.2,1031.7 846.5,1032.6 847.8,1032.7 849.0,1032.1 850.2,1030.9 851.5,1030.1 852.8,1030.0 854.0,1028.9 855.2,1027.8 856.5,1027.3 857.8,1028.1 859.0,1027.8 860.2,1027.2 861.5,1026.6 862.8,1027.1 864.0,1027.1 865.2,1027.3 866.5,1027.0 867.8,1028.0 869.0,1026.0 870.2,1025.9 871.5,1025.5 872.8,1025.5 874.0,1026.7 875.2,1026.8 876.5,1026.0 877.8,1025.4 879.0,1025.6 880.2,1023.7 881.5,1023.1 882.8,1022.6 884.0,1022.1 885.2,1022.3 886.5,1023.1 887.8,1023.7 889.0,1023.1 890.2,1024.4 891.5,1023.4 892.8,1023.9 894.0,1022.2 895.2,1021.2 896.5,1021.3 897.8,1021.0 899.0,1021.7 900.2,1022.8 901.5,1022.9 902.8,1021.0 904.0,1022.3 905.2,1021.5 906.5,1021.8 907.8,1020.4 909.0,1020.0 910.2,1018.5 911.5,1020.5 912.8,1018.2 914.0,1019.4 915.2,1020.3 916.5,1018.2 917.8,1018.4 919.0,1016.9 920.2,1015.5 921.5,1015.7 922.8,1014.7 924.0,1013.9 925.2,1014.9 926.5,1015.0 927.8,1015.1 929.0,1014.7 930.2,1014.7 931.5,1014.8 932.8,1012.6 934.0,1011.1 935.2,1009.8 936.5,1011.3 937.8,1010.9 939.0,1011.6 940.2,1009.0 941.5,1008.6 942.8,1009.5 944.0,1008.0 945.2,1009.3 946.5,1009.0 947.8,1006.8 949.0,1005.5 950.2,1006.1 951.5,1007.4 952.8,1004.6 954.0,1004.7 955.2,1006.1 956.5,1006.5 957.8,1005.7 959.0,1006.1 960.2,1005.9 961.5,1003.5 962.8,1004.5 964.0,1004.8 965.2,1004.7 966.5,1004.4 967.8,1002.6 969.0,1001.9 970.2,1001.8 971.5,1000.9 972.8,1002.0 974.0,1000.6 975.2,1000.8 976.5,998.6 977.8,998.8 979.0,999.2 980.2,999.7 981.5,997.3 982.8,996.2 984.0,996.0 985.2,995.9 986.5,997.1 987.8,996.2 989.0,996.3 990.2,996.3 991.5,996.8 992.8,997.5 994.0,995.1 995.2,995.3 996.5,996.7 997.8,994.4 999.0,993.5 1000.2,995.0 1001.5,995.0 1002.8,993.2 1004.0,992.2 1005.2,993.8 1006.5,994.1 1007.8,992.6 1009.0,991.2 1010.2,991.6 1011.5,990.5 1012.8,989.9 1014.0,990.0 1015.2,992.1 1016.5,990.8 1017.8,992.3 1019.0,991.6 1020.2,991.9 1021.5,991.6 1022.8,991.7 1024.0,991.2 1025.2,990.4 1026.5,991.1 1027.8,990.6 1029.0,990.5 1030.2,991.1 1031.5,990.3 1032.8,990.0 1034.0,989.9 1035.2,988.9 1036.5,987.4 1037.8,986.4 1039.0,987.7 1040.2,987.9 1041.5,986.8 1042.8,987.2 1044.0,985.2 1045.2,983.9 1046.5,985.1 1047.8,983.5 1049.0,982.8 1050.2,984.0 1051.5,984.1 1052.8,984.0 1054.0,983.6 1055.2,982.8 1056.5,980.7 1057.8,980.4 1059.0,980.1 1060.2,980.1 1061.5,978.7 1062.8,979.2 1064.0,978.4 1065.2,979.7 1066.5,979.4 1067.8,979.8 1069.0,979.3 1070.2,978.9 1071.5,977.7 1072.8,976.4 1074.0,975.2 1075.2,977.4 1076.5,978.1 1077.8,976.3 1079.0,975.8 1080.2,974.7 1081.5,974.9 1082.8,975.7 1084.0,974.2 1085.2,973.2 1086.5,973.8 1087.8,973.1 1089.0,973.7 1090.2,973.5 1091.5,972.4 1092.8,972.7 1094.0,972.3 1095.2,970.9 1096.5,970.9 1097.8,971.8 1099.0,970.0 1100.2,970.7 1101.5,971.8 1102.8,970.4 1104.0,970.9 1105.2,970.2 1106.5,969.3 1107.8,969.4 1109.0,968.0 1110.2,969.6 1111.5,969.2 1112.8,969.2 1114.0,967.6 1115.2,968.3 1116.5,968.3 1117.8,966.4 1119.0,965.2 1120.2,965.4 1121.5,964.5 1122.8,965.6 1124.0,965.1 1125.2,966.2 1126.5,966.4 1127.8,966.5 1129.0,966.0 1130.2,965.8 1131.5,965.6 1132.8,964.6 1134.0,964.6 1135.2,963.2 1136.5,962.3 1137.8,961.3 1139.0,961.7 1140.2,962.2 1141.5,962.2 1142.8,960.4 1144.0,962.4 1145.2,962.7 1146.5,960.5 1147.8,961.4 1149.0,960.1 1150.2,958.8 1151.5,960.1 1152.8,960.5 1154.0,960.4 1155.2,958.9 1156.5,957.5 1157.8,958.2 1159.0,958.3 1160.2,956.8 1161.5,955.1 1162.8,954.8 1164.0,956.2 1165.2,954.7 1166.5,953.7 1167.8,954.2 1169.0,954.9 1170.2,953.9 1171.5,953.6 1172.8,954.8 1174.0,953.7 1175.2,953.4 1176.5,951.1 1177.8,951.0 1179.0,951.3 1180.2,950.5 1181.5,952.2 1182.8,951.7 1184.0,949.9 1185.2,951.1 1186.5,951.6 1187.8,949.8 1189.0,948.8 1190.2,953.1 1191.5,951.4 1192.8,950.7 1194.0,950.0 1195.2,949.0 1196.5,948.4 1197.8,948.1 1199.0,949.0 1200.2,948.8 1201.5,947.8 1202.8,946.3 1204.0,947.3 1205.2,946.9 1206.5,946.2 1207.8,946.9 1209.0,946.0 1210.2,945.8 1211.5,946.5 1212.8,945.1 1214.0,943.8 1215.2,944.3 1216.5,942.8 1217.8,944.0 1219.0,942.6 1220.2,942.5 1221.5,943.1 1222.8,942.7 1224.0,943.4 1225.2,941.7 1226.5,943.0 1227.8,941.7 1229.0,940.9 1230.2,939.9 1231.5,940.6 1232.8,940.0 1234.0,938.2 1235.2,938.4 1236.5,938.3 1237.8,939.0 1239.0,939.0 1240.2,938.0 1241.5,938.8 1242.8,938.4 1244.0,938.6 1245.2,937.5 1246.5,938.0 1247.8,938.1 1249.0,938.3 1250.2,937.8 1251.5,935.4 1252.8,935.7 1254.0,936.4 1255.2,936.8 1256.5,935.8 1257.8,934.9 1259.0,934.2 1260.2,933.5 1261.5,934.8 1262.8,933.9 1264.0,933.5 1265.2,932.3 1266.5,934.1 1267.8,934.8 1269.0,934.0 1270.2,932.6 1271.5,933.1 1272.8,933.7 1274.0,931.2 1275.2,929.8 1276.5,930.2 1277.8,929.3 1279.0,930.5 1280.2,928.8 1281.5,929.7 1282.8,928.7 1284.0,927.8 1285.2,928.4 1286.5,926.5 1287.8,926.8 1289.0,927.3 1290.2,926.9 1291.5,925.6 1292.8,926.3 1294.0,926.7 1295.2,925.4 1296.5,923.9 1297.8,923.3 1299.0,922.8 1300.2,922.4 1301.5,924.6 1302.8,922.7 1304.0,923.3 1305.2,924.2 1306.5,923.1 1307.8,922.1 1309.0,923.7 1310.2,922.5 1311.5,922.8 1312.8,923.0 1314.0,921.2 1315.2,921.7 1316.5,919.4 1317.8,918.6 1319.0,919.7 1320.2,920.2 1321.5,920.5 1322.8,918.7 1324.0,918.9 1325.2,917.5 1326.5,916.5 1327.8,916.8 1329.0,918.0 1330.2,918.1 1331.5,917.3 1332.8,916.7 1334.0,917.4 1335.2,917.3 1336.5,915.4 1337.8,916.0 1339.0,916.8 1340.2,916.0 1341.5,916.0 1342.8,916.5 1344.0,915.0 1345.2,914.7 1346.5,913.3 1347.8,914.5 1349.0,914.1 1350.2,914.7 1351.5,913.3 1352.8,911.5 1354.0,911.2 1355.2,911.6 1356.5,912.2 1357.8,911.7 1359.0,910.8 1360.2,911.8 1361.5,911.3 1362.8,910.7 1364.0,911.7 1365.2,912.0 1366.5,909.9 1367.8,911.1 1369.0,909.5 1370.2,908.3 1371.5,909.6 1372.8,909.4 1374.0,910.0 1375.2,907.6 1376.5,908.8 1377.8,909.9 1379.0,909.2 1380.2,908.6 1381.5,907.8 1382.8,908.2 1384.0,908.1 1385.2,907.4 1386.5,907.1 1387.8,905.0 1389.0,904.4 1390.2,903.9 1391.5,904.4 1392.8,904.8 1394.0,905.4 1395.2,903.7 1396.5,904.1 1397.8,902.9 1399.0,902.0 1400.2,901.3 1401.5,902.1 1402.8,901.5 1404.0,901.0 1405.2,902.5 1406.5,901.0 1407.8,900.9 1409.0,900.4 1410.2,898.7 1411.5,898.9 1412.8,898.1 1414.0,897.2 1415.2,897.6 1416.5,896.2 1417.8,896.0 1419.0,894.7 1420.2,896.2 1421.5,894.7 1422.8,896.3 1424.0,895.9 1425.2,894.7 1426.5,894.9 1427.8,894.2 1429.0,895.2 1430.2,895.3 1431.5,892.9 1432.8,894.6 1434.0,893.0 1435.2,893.6 1436.5,893.5 1437.8,891.7 1439.0,892.1 1440.2,891.9 1441.5,891.1 1442.8,892.5 1444.0,890.9 1445.2,891.4 1446.5,891.6 1447.8,889.9 1449.0,889.3 1450.2,889.0 1451.5,888.2 1452.8,889.9 1454.0,888.5 1455.2,887.0 1456.5,886.6 1457.8,886.7 1459.0,885.6 1460.2,885.5 1461.5,886.7 1462.8,886.3 1464.0,884.1 1465.2,883.4 1466.5,882.7 1467.8,882.9 1469.0,882.0 1470.2,883.4 1471.5,883.2 1472.8,882.5 1474.0,880.1 1475.2,878.5 1476.5,877.9 1477.8,878.1 1479.0,877.5 1480.2,878.3 1481.5,877.4 1482.8,877.0 1484.0,876.8 1485.2,875.3 1486.5,874.5 1487.8,875.0 1489.0,872.8 1490.2,871.9 1491.5,873.8 1492.8,873.2 1494.0,872.4 1495.2,870.3 1496.5,871.0 1497.8,871.2 1499.0,870.1 1500.2,868.9 1501.5,870.4 1502.8,868.4 1504.0,869.5 1505.2,869.6 1506.5,867.8 1507.8,867.6 1509.0,866.7 1510.2,866.5 1511.5,866.4 1512.8,866.7 1514.0,866.8 1515.2,865.1 1516.5,866.5 1517.8,864.8 1519.0,864.6 1520.2,864.5 1521.5,863.7 1522.8,863.2 1524.0,863.9 1525.2,863.4 1526.5,861.9 1527.8,861.5 1529.0,861.5 1530.2,860.8 1531.5,860.2 1532.8,859.1 1534.0,858.7 1535.2,857.0 1536.5,856.8 1537.8,856.7 1539.0,855.3 1540.2,855.1 1541.5,854.7 1542.8,855.4 1544.0,856.0 1545.2,855.2 1546.5,854.7 1547.8,852.4 1549.0,853.0 1550.2,853.4 1551.5,852.0 1552.8,851.5 1554.0,850.5 1555.2,851.8 1556.5,852.0 1557.8,851.6 1559.0,850.9 1560.2,850.6 1561.5,849.6 1562.8,849.7 1564.0,849.6 1565.2,848.9 1566.5,846.6 1567.8,847.3 1569.0,845.7 1570.2,844.3 1571.5,844.3 1572.8,845.1 1574.0,842.7 1575.2,844.1 1576.5,842.7 1577.8,841.8 1579.0,841.8 1580.2,841.0 1581.5,840.5 1582.8,841.5 1584.0,840.9 1585.2,840.6 1586.5,840.8 1587.8,839.7 1589.0,838.6 1590.2,840.3 1591.5,838.8 1592.8,836.8 1594.0,836.9 1595.2,838.3 1596.5,836.7 1597.8,835.7 1599.0,835.0 1600.2,835.9 1601.5,836.0 1602.8,834.6 1604.0,834.3 1605.2,834.6 1606.5,834.4 1607.8,834.5 1609.0,832.4 1610.2,831.0 1611.5,832.8 1612.8,833.1 1614.0,832.4 1615.2,832.6 1616.5,832.2 1617.8,831.7 1619.0,830.8 1620.2,830.1 1621.5,828.8 1622.8,828.4 1624.0,829.0 1625.2,828.9 1626.5,826.9 1627.8,826.5 1629.0,827.5 1630.2,827.0 1631.5,826.2 1632.8,825.8 1634.0,824.5 1635.2,826.2 1636.5,825.5 1637.8,825.2 1639.0,824.8 1640.2,823.6 1641.5,823.6 1642.8,822.1 1644.0,823.8 1645.2,823.8 1646.5,824.1 1647.8,821.6 1649.0,823.5 1650.2,822.6 1651.5,821.8 1652.8,822.1 1654.0,820.8 1655.2,822.1 1656.5,822.0 1657.8,820.7 1659.0,819.8 1660.2,819.0 1661.5,818.8 1662.8,818.3 1664.0,819.9 1665.2,819.3 1666.5,817.3 1667.8,816.5 1669.0,815.7 1670.2,817.7 1671.5,815.9 1672.8,816.8 1674.0,815.3 1675.2,815.5 1676.5,816.5 1677.8,816.2 1679.0,814.8 1680.2,816.2 1681.5,815.8 1682.8,815.4 1684.0,813.2 1685.2,812.9 1686.5,813.1 1687.8,813.7 1689.0,812.7 1690.2,813.0 1691.5,813.0 1692.8,811.5 1694.0,811.3 1695.2,811.5 1696.5,810.1 1697.8,811.0 1699.0,809.3 1700.2,810.2 1701.5,810.6 1702.8,811.2 1704.0,810.3 1705.2,809.5 1706.5,809.5 1707.8,809.8 1709.0,808.4 1710.2,807.8 1711.5,807.4 1712.8,808.4 1714.0,807.0 1715.2,807.6 1716.5,806.4 1717.8,808.0 1719.0,806.0 1720.2,804.6 1721.5,804.1 1722.8,804.8 1724.0,803.9 1725.2,804.7 1726.5,805.1 1727.8,802.9 1729.0,803.5 1730.2,802.9 1731.5,803.8 1732.8,804.7 1734.0,804.1 1735.2,803.1 1736.5,802.8 1737.8,801.8 1739.0,801.7 1740.2,801.8 1741.5,800.9 1742.8,801.1 1744.0,801.0 1745.2,800.5 1746.5,799.7 1747.8,799.5 1749.0,798.8 1750.2,799.0 1751.5,799.8 1752.8,799.4 1754.0,800.3 1755.2,800.2 1756.5,799.0 1757.8,799.3 1759.0,798.5 1760.2,798.8 1761.5,798.6 1762.8,797.8 1764.0,795.3 1765.2,796.2 1766.5,796.2 1767.8,796.2 1769.0,795.7 1770.2,794.8 1771.5,794.1 1772.8,794.2 1774.0,793.2 1775.2,792.9 1776.5,792.2 1777.8,789.7 1779.0,789.6 1780.2,788.6 1781.5,788.2 1782.8,788.0 1784.0,787.9 1785.2,788.4 1786.5,787.8 1787.8,788.2 1789.0,786.8 1790.2,785.8 1791.5,786.3 1792.8,785.6 1794.0,785.6 1795.2,785.5 1796.5,786.1 1797.8,784.2 1799.0,784.8 1800.2,785.0 1801.5,785.7 1802.8,784.3 1804.0,783.7 1805.2,782.4 1806.5,783.1 1807.8,783.8 1809.0,783.0 1810.2,782.1 1811.5,782.3 1812.8,781.2 1814.0,781.2 1815.2,780.9 1816.5,781.9 1817.8,780.7 1819.0,781.1 1820.2,780.9 1821.5,780.4 1822.8,779.7 1823.5,778.4"/>
<g fill="#ff0000">
<circle cx="204.0" cy="1222.0" r="17.6"/>
<circle cx="321.7" cy="1186.1" r="17.6"/>
<circle cx="439.5" cy="1154.6" r="17.6"/>
<circle cx="557.2" cy="1117.1" r="17.6"/>
<circle cx="674.9" cy="1079.7" r="17.6"/>
<circle cx="792.6" cy="1045.7" r="17.6"/>
<circle cx="910.4" cy="1020.3" r="17.6"/>
<circle cx="1028.1" cy="990.6" r="17.6"/>
<circle cx="1145.8" cy="960.6" r="17.6"/>
<circle cx="1263.6" cy="934.4" r="17.6"/>
<circle cx="1381.3" cy="908.2" r="17.6"/>
<circle cx="1499.0" cy="870.8" r="17.6"/>
<circle cx="1616.8" cy="831.5" r="17.6"/>
<circle cx="1734.5" cy="802.5" r="17.6"/>
</g>
<polyline fill="none" stroke="#7d00e1" stroke-width="5.7" stroke-linejoin="round" stroke-linecap="round" points="204.0,1222.0 205.2,1221.7 206.5,1220.9 207.8,1220.4 209.0,1218.9 210.2,1217.8 211.5,1216.7 212.8,1217.2 214.0,1214.2 215.2,1213.0 216.5,1212.8 217.8,1211.8 219.0,1212.4 220.2,1210.6 221.5,1208.0 222.8,1206.9 224.0,1208.4 225.2,1205.1 226.5,1203.9 227.8,1202.2 229.0,1202.0 230.2,1200.6 231.5,1199.6 232.8,1201.1 234.0,1198.3 235.2,1196.9 236.5,1195.6 237.8,1194.9 239.0,1195.7 240.2,1194.6 241.5,1194.3 242.8,1192.3 244.0,1191.8 245.2,1191.8 246.5,1191.1 247.8,1189.5 249.0,1188.2 250.2,1188.1 251.5,1187.1 252.8,1184.2 254.0,1185.0 255.2,1184.0 256.5,1182.9 257.8,1183.8 259.0,1181.3 260.2,1180.2 261.5,1178.4 262.8,1177.2 264.0,1177.3 265.2,1177.1 266.5,1177.9 267.8,1175.9 269.0,1176.8 270.2,1175.7 271.5,1174.3 272.8,1173.7 274.0,1171.1 275.2,1170.3 276.5,1170.5 277.8,1169.6 279.0,1169.0 280.2,1170.8 281.5,1171.9 282.8,1168.9 284.0,1169.4 285.2,1170.0 286.5,1166.8 287.8,1168.7 289.0,1166.5 290.2,1166.7 291.5,1168.0 292.8,1168.9 294.0,1167.8 295.2,1165.0 296.5,1165.8 297.8,1164.0 299.0,1164.1 300.2,1163.9 301.5,1162.2 302.8,1161.4 304.0,1161.7 305.2,1163.1 306.5,1162.3 307.8,1160.5 309.0,1159.4 310.2,1159.7 311.5,1159.9 312.8,1158.5 314.0,1159.1 315.2,1159.9 316.5,1157.4 317.8,1159.7 319.0,1157.8 320.2,1159.2 321.5,1158.4 322.8,1156.4 324.0,1158.2 325.2,1158.2 326.5,1157.8 327.8,1156.3 329.0,1154.8 330.2,1155.1 331.5,1154.5 332.8,1156.1 334.0,1154.0 335.2,1155.8 336.5,1153.9 337.8,1152.2 339.0,1151.2 340.2,1149.8 341.5,1150.1 342.8,1148.9 344.0,1149.7 345.2,1147.5 346.5,1149.5 347.8,1147.8 349.0,1148.5 350.2,1148.2 351.5,1145.9 352.8,1146.6 354.0,1145.1 355.2,1143.5 356.5,1143.1 357.8,1142.7 359.0,1140.9 360.2,1140.5 361.5,1140.1 362.8,1141.8 364.0,1140.7 365.2,1139.1 366.5,1137.4 367.8,1138.9 369.0,1136.3 370.2,1134.0 371.5,1134.4 372.8,1135.1 374.0,1134.4 375.2,1132.7 376.5,1131.5 377.8,1130.3 379.0,1131.4 380.2,1130.3 381.5,1128.4 382.8,1129.2 384.0,1127.4 385.2,1125.5 386.5,1123.5 387.8,1124.6 389.0,1124.6 390.2,1124.8 391.5,1122.5 392.8,1121.2 394.0,1121.6 395.2,1119.9 396.5,1119.3 397.8,1118.2 399.0,1118.3 400.2,1117.5 401.5,1116.8 402.8,1115.9 404.0,1117.2 405.2,1114.8 406.5,1114.3 407.8,1112.2 409.0,1111.5 410.2,1112.1 411.5,1111.1 412.8,1109.8 414.0,1110.8 415.2,1109.7 416.5,1109.2 417.8,1107.3 419.0,1106.4 420.2,1107.0 421.5,1105.2 422.8,1104.6 424.0,1104.0 425.2,1104.1 426.5,1103.3 427.8,1102.6 429.0,1101.8 430.2,1101.5 431.5,1101.3 432.8,1099.7 434.0,1097.4 435.2,1098.0 436.5,1095.4 437.8,1096.1 439.0,1092.7 440.2,1093.2 441.5,1091.9 442.8,1090.0 444.0,1091.0 445.2,1090.7 446.5,1089.4 447.8,1088.6 449.0,1086.8 450.2,1087.1 451.5,1086.0 452.8,1086.3 454.0,1086.6 455.2,1086.3 456.5,1084.5 457.8,1083.0 459.0,1081.4 460.2,1082.4 461.5,1079.6 462.8,1078.2 464.0,1080.1 465.2,1077.1 466.5,1076.2 467.8,1078.5 469.0,1076.7 470.2,1075.4 471.5,1074.6 472.8,1075.1 474.0,1075.1 475.2,1073.8 476.5,1073.8 477.8,1072.6 479.0,1070.1 480.2,1067.7 481.5,1067.0 482.8,1065.8 484.0,1064.7 485.2,1066.1 486.5,1063.9 487.8,1061.8 489.0,1061.1 490.2,1061.9 491.5,1061.8 492.8,1061.8 494.0,1058.4 495.2,1059.4 496.5,1058.6 497.8,1057.9 499.0,1054.8 500.2,1056.2 501.5,1052.0 502.8,1052.3 504.0,1053.3 505.2,1049.6 506.5,1050.4 507.8,1048.8 509.0,1046.4 510.2,1048.2 511.5,1047.6 512.8,1046.2 514.0,1043.4 515.2,1044.6 516.5,1043.9 517.8,1041.9 519.0,1041.9 520.2,1042.6 521.5,1039.7 522.8,1039.7 524.0,1038.5 525.2,1037.3 526.5,1036.8 527.8,1034.9 529.0,1034.8 530.2,1035.1 531.5,1033.4 532.8,1033.4 534.0,1033.4 535.2,1032.5 536.5,1029.3 537.8,1029.4 539.0,1028.6 540.2,1028.8 541.5,1027.5 542.8,1026.9 544.0,1025.9 545.2,1026.4 546.5,1025.3 547.8,1025.4 549.0,1024.3 550.2,1023.4 551.5,1023.6 552.8,1019.8 554.0,1019.5 555.2,1020.6 556.5,1020.6 557.8,1018.7 559.0,1019.5 560.2,1015.8 561.5,1016.1 562.8,1013.1 564.0,1012.3 565.2,1013.1 566.5,1011.1 567.8,1011.5 569.0,1012.5 570.2,1009.1 571.5,1009.3 572.8,1006.4 574.0,1007.0 575.2,1006.8 576.5,1003.9 577.8,1005.2 579.0,1004.6 580.2,1002.2 581.5,1001.8 582.8,1000.4 584.0,1000.9 585.2,999.8 586.5,998.2 587.8,996.1 589.0,994.4 590.2,993.6 591.5,992.4 592.8,991.1 594.0,991.4 595.2,989.7 596.5,990.5 597.8,988.3 599.0,987.3 600.2,986.8 601.5,986.4 602.8,987.2 604.0,984.8 605.2,984.5 606.5,983.8 607.8,980.4 609.0,981.3 610.2,980.9 611.5,981.1 612.8,979.8 614.0,979.1 615.2,975.9 616.5,975.2 617.8,973.6 619.0,974.1 620.2,974.7 621.5,974.2 622.8,973.6 624.0,972.5 625.2,971.9 626.5,969.5 627.8,968.2 629.0,970.1 630.2,969.6 631.5,969.3 632.8,968.8 634.0,965.5 635.2,964.5 636.5,965.6 637.8,964.3 639.0,963.9 640.2,963.5 641.5,963.7 642.8,962.1 644.0,961.0 645.2,958.3 646.5,956.8 647.8,955.3 649.0,954.2 650.2,955.7 651.5,954.3 652.8,954.8 654.0,953.8 655.2,952.1 656.5,953.3 657.8,952.5 659.0,950.5 660.2,950.7 661.5,949.4 662.8,948.4 664.0,948.9 665.2,950.5 666.5,947.1 667.8,947.9 669.0,947.3 670.2,947.2 671.5,945.8 672.8,946.3 674.0,943.2 675.2,942.5 676.5,942.1 677.8,943.0 679.0,941.1 680.2,939.9 681.5,940.0 682.8,940.1 684.0,939.1 685.2,939.1 686.5,939.2 687.8,937.8 689.0,938.3 690.2,936.3 691.5,936.7 692.8,937.1 694.0,934.4 695.2,936.2 696.5,936.5 697.8,934.1 699.0,935.3 700.2,932.9 701.5,931.7 702.8,927.7 704.0,926.9 705.2,926.4 706.5,925.5 707.8,923.4 709.0,923.8 710.2,922.5 711.5,922.2 712.8,919.5 714.0,917.2 715.2,917.8 716.5,915.6 717.8,915.1 719.0,913.5 720.2,912.5 721.5,910.9 722.8,912.2 724.0,911.0 725.2,911.0 726.5,908.8 727.8,907.6 729.0,907.1 730.2,906.8 731.5,906.1 732.8,904.6 734.0,902.6 735.2,903.8 736.5,902.6 737.8,901.2 739.0,900.4 740.2,899.0 741.5,898.5 742.8,896.5 744.0,897.2 745.2,896.4 746.5,895.6 747.8,894.2 749.0,894.5 750.2,892.1 751.5,893.1 752.8,891.0 754.0,891.1 755.2,889.9 756.5,891.7 757.8,889.0 759.0,888.1 760.2,888.0 761.5,886.8 762.8,886.2 764.0,885.5 765.2,884.8 766.5,885.5 767.8,883.7 769.0,882.2 770.2,883.5 771.5,885.4 772.8,882.7 774.0,881.5 775.2,880.7 776.5,883.9 777.8,880.9 779.0,881.6 780.2,880.4 781.5,882.8 782.8,880.8 784.0,881.2 785.2,882.1 786.5,880.1 787.8,879.0 789.0,878.7 790.2,880.2 791.5,880.3 792.8,879.4 794.0,879.0 795.2,877.7 796.5,876.9 797.8,874.5 799.0,875.4 800.2,873.9 801.5,872.6 802.8,873.7 804.0,873.1 805.2,871.0 806.5,870.7 807.8,869.7 809.0,867.8 810.2,867.1 811.5,868.6 812.8,866.9 814.0,866.9 815.2,864.7 816.5,865.7 817.8,865.9 819.0,865.0 820.2,864.3 821.5,862.5 822.8,858.9 824.0,859.2 825.2,859.8 826.5,857.7 827.8,856.8 829.0,856.4 830.2,854.7 831.5,854.0 832.8,852.1 834.0,854.2 835.2,852.5 836.5,850.5 837.8,851.9 839.0,848.5 840.2,849.6 841.5,848.7 842.8,848.1 844.0,846.6 845.2,845.7 846.5,842.6 847.8,842.9 849.0,841.7 850.2,841.3 851.5,838.6 852.8,837.8 854.0,837.5 855.2,836.5 856.5,837.6 857.8,836.1 859.0,833.7 860.2,832.6 861.5,831.6 862.8,831.4 864.0,829.4 865.2,829.0 866.5,829.0 867.8,828.2 869.0,826.0 870.2,827.8 871.5,825.3 872.8,826.8 874.0,827.2 875.2,824.2 876.5,823.0 877.8,823.8 879.0,823.8 880.2,823.3 881.5,824.8 882.8,823.5 884.0,823.3 885.2,821.3 886.5,821.5 887.8,819.7 889.0,820.6 890.2,819.5 891.5,820.2 892.8,819.3 894.0,816.8 895.2,815.0 896.5,816.3 897.8,813.5 899.0,813.3 900.2,811.3 901.5,810.8 902.8,809.4 904.0,808.6 905.2,807.5 906.5,806.4 907.8,807.7 909.0,807.0 910.2,805.1 911.5,803.8 912.8,802.6 914.0,802.1 915.2,801.9 916.5,798.7 917.8,799.5 919.0,798.4 920.2,797.6 921.5,794.8 922.8,794.4 924.0,792.7 925.2,793.0 926.5,792.1 927.8,792.4 929.0,789.6 930.2,787.6 931.5,789.5 932.8,787.2 934.0,785.3 935.2,785.7 936.5,785.0 937.8,784.2 939.0,783.3 940.2,781.2 941.5,781.5 942.8,780.9 944.0,779.7 945.2,779.9 946.5,776.7 947.8,777.3 949.0,774.2 950.2,772.7 951.5,772.5 952.8,772.7 954.0,769.8 955.2,768.9 956.5,767.9 957.8,766.6 959.0,766.1 960.2,764.4 961.5,764.5 962.8,764.2 964.0,762.8 965.2,761.3 966.5,760.4 967.8,758.3 969.0,758.1 970.2,758.0 971.5,758.2 972.8,756.4 974.0,755.4 975.2,753.4 976.5,754.5 977.8,751.6 979.0,750.5 980.2,749.5 981.5,749.8 982.8,749.4 984.0,748.7 985.2,747.7 986.5,747.0 987.8,744.9 989.0,745.7 990.2,743.8 991.5,741.4 992.8,741.4 994.0,741.4 995.2,741.2 996.5,737.8 997.8,739.1 999.0,738.1 1000.2,738.2 1001.5,736.0 1002.8,736.3 1004.0,734.6 1005.2,731.9 1006.5,733.2 1007.8,732.8 1009.0,730.6 1010.2,730.1 1011.5,728.9 1012.8,727.3 1014.0,728.9 1015.2,728.4 1016.5,728.6 1017.8,725.5 1019.0,725.1 1020.2,724.8 1021.5,722.5 1022.8,724.2 1024.0,724.2 1025.2,722.4 1026.5,722.4 1027.8,720.3 1029.0,721.7 1030.2,719.7 1031.5,720.5 1032.8,717.8 1034.0,716.3 1035.2,718.2 1036.5,718.5 1037.8,714.8 1039.0,715.1 1040.2,712.1 1041.5,714.0 1042.8,713.7 1044.0,711.1 1045.2,708.9 1046.5,711.5 1047.8,709.3 1049.0,709.6 1050.2,708.9 1051.5,708.7 1052.8,706.5 1054.0,705.9 1055.2,706.6 1056.5,703.0 1057.8,705.2 1059.0,702.7 1060.2,703.5 1061.5,700.6 1062.8,700.2 1064.0,698.5 1065.2,698.2 1066.5,697.7 1067.8,696.1 1069.0,694.3 1070.2,695.6 1071.5,692.7 1072.8,694.1 1074.0,691.8 1075.2,690.4 1076.5,689.2 1077.8,688.8 1079.0,690.3 1080.2,688.4 1081.5,688.7 1082.8,688.7 1084.0,687.7 1085.2,687.4 1086.5,684.3 1087.8,683.6 1089.0,682.1 1090.2,683.8 1091.5,682.8 1092.8,680.6 1094.0,678.9 1095.2,680.2 1096.5,680.6 1097.8,679.6 1099.0,679.0 1100.2,678.3 1101.5,674.8 1102.8,674.5 1104.0,672.8 1105.2,673.4 1106.5,673.5 1107.8,671.6 1109.0,669.7 1110.2,667.8 1111.5,668.3 1112.8,667.9 1114.0,667.6 1115.2,666.8 1116.5,666.8 1117.8,665.9 1119.0,664.8 1120.2,662.6 1121.5,661.9 1122.8,660.8 1124.0,659.4 1125.2,659.1 1126.5,657.4 1127.8,656.3 1129.0,655.7 1130.2,654.0 1131.5,654.7 1132.8,654.6 1134.0,653.1 1135.2,651.8 1136.5,653.3 1137.8,650.7 1139.0,651.1 1140.2,649.0 1141.5,648.4 1142.8,649.7 1144.0,649.3 1145.2,646.6 1146.5,646.5 1147.8,646.9 1149.0,647.1 1150.2,644.9 1151.5,646.0 1152.8,645.5 1154.0,644.3 1155.2,645.3 1156.5,642.5 1157.8,642.8 1159.0,644.1 1160.2,644.6 1161.5,641.8 1162.8,641.8 1164.0,640.9 1165.2,639.0 1166.5,638.6 1167.8,639.5 1169.0,637.8 1170.2,639.1 1171.5,639.1 1172.8,636.8 1174.0,634.9 1175.2,636.4 1176.5,636.1 1177.8,635.5 1179.0,632.2 1180.2,632.3 1181.5,632.7 1182.8,630.5 1184.0,629.9 1185.2,630.5 1186.5,628.0 1187.8,629.5 1189.0,627.5 1190.2,627.7 1191.5,627.2 1192.8,627.1 1194.0,626.0 1195.2,624.9 1196.5,625.1 1197.8,621.9 1199.0,623.2 1200.2,622.8 1201.5,621.5 1202.8,619.9 1204.0,621.9 1205.2,621.1 1206.5,619.3 1207.8,618.7 1209.0,619.7 1210.2,619.0 1211.5,618.9 1212.8,618.2 1214.0,618.3 1215.2,617.9 1216.5,615.7 1217.8,617.6 1219.0,616.0 1220.2,614.7 1221.5,614.3 1222.8,614.1 1224.0,615.3 1225.2,613.0 1226.5,612.6 1227.8,613.4 1229.0,613.4 1230.2,612.4 1231.5,613.1 1232.8,611.9 1234.0,612.6 1235.2,612.9 1236.5,611.4 1237.8,611.9 1239.0,610.4 1240.2,610.8 1241.5,608.5 1242.8,610.4 1244.0,610.9 1245.2,609.7 1246.5,609.4 1247.8,608.0 1249.0,607.0 1250.2,607.2 1251.5,605.7 1252.8,607.8 1254.0,605.8 1255.2,605.9 1256.5,606.8 1257.8,607.9 1259.0,605.0 1260.2,604.0 1261.5,603.1 1262.8,605.3 1264.0,605.5 1265.2,604.9 1266.5,602.1 1267.8,601.4 1269.0,600.1 1270.2,600.3 1271.5,598.9 1272.8,597.0 1274.0,597.8 1275.2,597.6 1276.5,596.9 1277.8,596.3 1279.0,594.9 1280.2,592.1 1281.5,593.0 1282.8,592.0 1284.0,590.9 1285.2,592.1 1286.5,589.5 1287.8,587.8 1289.0,588.6 1290.2,586.3 1291.5,586.7 1292.8,583.4 1294.0,582.1 1295.2,580.9 1296.5,580.3 1297.8,579.3 1299.0,578.2 1300.2,576.4 1301.5,573.9 1302.8,572.1 1304.0,572.1 1305.2,568.6 1306.5,568.4 1307.8,567.0 1309.0,564.8 1310.2,565.1 1311.5,563.2 1312.8,563.8 1314.0,560.7 1315.2,561.3 1316.5,560.1 1317.8,559.7 1319.0,560.4 1320.2,558.2 1321.5,557.6 1322.8,557.4 1324.0,558.5 1325.2,556.7 1326.5,557.8 1327.8,555.7 1329.0,552.8 1330.2,553.0 1331.5,553.1 1332.8,552.1 1334.0,553.5 1335.2,553.4 1336.5,550.8 1337.8,551.4 1339.0,549.1 1340.2,549.1 1341.5,547.8 1342.8,545.1 1344.0,544.9 1345.2,541.4 1346.5,541.9 1347.8,540.1 1349.0,539.8 1350.2,538.3 1351.5,537.5 1352.8,534.8 1354.0,534.9 1355.2,531.9 1356.5,529.7 1357.8,527.9 1359.0,527.2 1360.2,526.4 1361.5,526.1 1362.8,523.2 1364.0,521.5 1365.2,519.9 1366.5,518.8 1367.8,517.1 1369.0,515.2 1370.2,514.4 1371.5,513.9 1372.8,514.1 1374.0,512.5 1375.2,511.6 1376.5,511.8 1377.8,507.9 1379.0,507.6 1380.2,507.1 1381.5,504.9 1382.8,501.3 1384.0,500.4 1385.2,500.1 1386.5,496.3 1387.8,495.4 1389.0,493.0 1390.2,492.6 1391.5,489.8 1392.8,486.5 1394.0,487.1 1395.2,485.4 1396.5,482.0 1397.8,481.4 1399.0,477.2 1400.2,475.1 1401.5,472.2 1402.8,473.5 1404.0,472.7 1405.2,470.6 1406.5,468.1 1407.8,465.7 1409.0,465.3 1410.2,465.7 1411.5,462.6 1412.8,462.2 1414.0,462.0 1415.2,462.5 1416.5,461.8 1417.8,459.9 1419.0,460.6 1420.2,459.4 1421.5,460.8 1422.8,461.5 1424.0,458.0 1425.2,458.9 1426.5,459.4 1427.8,459.6 1429.0,457.2 1430.2,456.6 1431.5,457.8 1432.8,458.3 1434.0,455.4 1435.2,457.3 1436.5,457.9 1437.8,458.0 1439.0,456.4 1440.2,455.6 1441.5,453.0 1442.8,452.7 1444.0,451.5 1445.2,454.0 1446.5,453.0 1447.8,451.0 1449.0,449.8 1450.2,448.8 1451.5,449.3 1452.8,449.3 1454.0,448.8 1455.2,449.7 1456.5,449.5 1457.8,448.7 1459.0,445.8 1460.2,446.1 1461.5,447.2 1462.8,445.6 1464.0,445.5 1465.2,443.9 1466.5,442.4 1467.8,443.8 1469.0,442.6 1470.2,442.0 1471.5,443.9 1472.8,442.1 1474.0,440.1 1475.2,439.3 1476.5,439.1 1477.8,439.1 1479.0,438.2 1480.2,437.8 1481.5,439.8 1482.8,437.8 1484.0,439.2 1485.2,439.2 1486.5,438.5 1487.8,438.6 1489.0,436.5 1490.2,435.1 1491.5,437.7 1492.8,435.9 1494.0,437.0 1495.2,436.9 1496.5,435.0 1497.8,433.4 1499.0,435.0 1500.2,433.7 1501.5,434.5 1502.8,434.9 1504.0,432.3 1505.2,432.4 1506.5,432.9 1507.8,430.7 1509.0,430.4 1510.2,429.9 1511.5,428.6 1512.8,427.8 1514.0,427.6 1515.2,428.6 1516.5,429.6 1517.8,428.7 1519.0,428.3 1520.2,428.6 1521.5,428.5 1522.8,428.3 1524.0,425.4 1525.2,424.9 1526.5,424.9 1527.8,424.4 1529.0,425.0 1530.2,422.8 1531.5,423.1 1532.8,422.4 1534.0,421.8 1535.2,420.4 1536.5,419.0 1537.8,417.1 1539.0,416.8 1540.2,416.1 1541.5,416.5 1542.8,416.1 1544.0,416.1 1545.2,415.7 1546.5,414.3 1547.8,411.6 1549.0,410.3 1550.2,409.4 1551.5,408.9 1552.8,409.8 1554.0,409.9 1555.2,407.8 1556.5,405.5 1557.8,404.2 1559.0,404.2 1560.2,402.6 1561.5,403.3 1562.8,401.2 1564.0,399.3 1565.2,400.0 1566.5,397.7 1567.8,397.0 1569.0,395.4 1570.2,396.6 1571.5,393.4 1572.8,392.2 1574.0,393.0 1575.2,393.0 1576.5,391.4 1577.8,389.8 1579.0,388.8 1580.2,390.9 1581.5,389.0 1582.8,390.2 1584.0,390.1 1585.2,387.8 1586.5,385.7 1587.8,385.1 1589.0,387.0 1590.2,385.9 1591.5,386.4 1592.8,385.3 1594.0,384.8 1595.2,382.9 1596.5,382.2 1597.8,379.8 1599.0,379.9 1600.2,376.9 1601.5,377.6 1602.8,375.6 1604.0,373.9 1605.2,373.4 1606.5,372.6 1607.8,374.5 1609.0,373.3 1610.2,371.6 1611.5,370.6 1612.8,370.2 1614.0,367.0 1615.2,366.6 1616.5,364.9 1617.8,366.2 1619.0,363.2 1620.2,362.6 1621.5,361.7 1622.8,362.5 1624.0,360.9 1625.2,361.1 1626.5,360.9 1627.8,360.5 1629.0,358.1 1630.2,358.4 1631.5,358.0 1632.8,357.0 1634.0,355.7 1635.2,357.7 1636.5,356.4 1637.8,355.1 1639.0,355.1 1640.2,353.2 1641.5,352.8 1642.8,351.0 1644.0,349.2 1645.2,349.5 1646.5,350.0 1647.8,347.6 1649.0,348.1 1650.2,346.8 1651.5,346.7 1652.8,345.7 1654.0,344.6 1655.2,343.5 1656.5,340.6 1657.8,339.8 1659.0,339.1 1660.2,339.4 1661.5,339.7 1662.8,339.7 1664.0,338.4 1665.2,337.1 1666.5,336.4 1667.8,334.7 1669.0,333.2 1670.2,333.9 1671.5,333.7 1672.8,330.0 1674.0,328.3 1675.2,329.3 1676.5,327.7 1677.8,325.9 1679.0,327.7 1680.2,324.8 1681.5,324.6 1682.8,325.7 1684.0,324.0 1685.2,321.6 1686.5,321.5 1687.8,318.8 1689.0,320.0 1690.2,317.2 1691.5,317.8 1692.8,315.2 1694.0,314.2 1695.2,313.9 1696.5,313.9 1697.8,312.4 1699.0,312.3 1700.2,309.8 1701.5,310.0 1702.8,307.9 1704.0,307.3 1705.2,308.2 1706.5,307.5 1707.8,306.5 1709.0,302.6 1710.2,303.2 1711.5,301.4 1712.8,299.5 1714.0,298.9 1715.2,297.7 1716.5,298.2 1717.8,297.3 1719.0,295.3 1720.2,294.7 1721.5,295.2 1722.8,292.2 1724.0,290.9 1725.2,292.1 1726.5,290.9 1727.8,287.6 1729.0,288.2 1730.2,287.1 1731.5,284.8 1732.8,281.9 1734.0,282.7 1735.2,281.2 1736.5,281.7 1737.8,278.7 1739.0,276.6 1740.2,276.6 1741.5,273.9 1742.8,275.0 1744.0,272.6 1745.2,271.6 1746.5,270.5 1747.8,270.3 1749.0,269.3 1750.2,269.4 1751.5,267.9 1752.8,270.0 1754.0,267.3 1755.2,266.2 1756.5,268.4 1757.8,267.5 1759.0,266.4 1760.2,267.9 1761.5,267.4 1762.8,264.8 1764.0,263.2 1765.2,264.7 1766.5,265.5 1767.8,263.0 1769.0,261.7 1770.2,264.3 1771.5,264.0 1772.8,266.0 1774.0,266.5 1775.2,267.1 1776.5,268.8 1777.8,268.5 1779.0,266.5 1780.2,267.5 1781.5,263.7 1782.8,263.0 1784.0,263.5 1785.2,261.5 1786.5,260.3 1787.8,260.0 1789.0,259.3 1790.2,256.8 1791.5,256.6 1792.8,258.6 1794.0,256.9 1795.2,254.7 1796.5,254.0 1797.8,253.5 1799.0,253.9 1800.2,253.7 1801.5,250.4 1802.8,250.0 1804.0,250.5 1805.2,247.7 1806.5,247.0 1807.8,246.2 1809.0,246.6 1810.2,245.0 1811.5,243.6 1812.8,242.5 1814.0,242.0 1815.2,240.9 1816.5,239.0 1817.8,238.4 1819.0,237.3 1820.2,238.4 1821.5,236.1 1822.8,234.4 1823.5,232.7"/>
<g fill="#00ff00">
<polygon points="204.0,1197.2 225.0,1233.8 183.0,1233.8"/>
<polygon points="321.7,1134.0 342.7,1170.6 300.7,1170.6"/>
<polygon points="439.5,1069.0 460.5,1105.6 418.5,1105.6"/>
<polygon points="557.2,995.3 578.2,1031.9 536.2,1031.9"/>
<polygon points="674.9,918.6 695.9,955.2 653.9,955.2"/>
<polygon points="792.6,854.4 813.6,891.0 771.6,891.0"/>
<polygon points="910.4,780.2 931.4,816.8 889.4,816.8"/>
<polygon points="1028.1,695.9 1049.1,732.5 1007.1,732.5"/>
<polygon points="1145.8,622.3 1166.8,658.9 1124.8,658.9"/>
<polygon points="1263.6,579.3 1284.6,615.9 1242.6,615.9"/>
<polygon points="1381.3,480.8 1402.3,517.4 1360.3,517.4"/>
<polygon points="1499.0,410.5 1520.0,447.1 1478.0,447.1"/>
<polygon points="1616.8,341.9 1637.8,378.5 1595.8,378.5"/>
<polygon points="1734.5,256.6 1755.5,293.2 1713.5,293.2"/>
</g>
<polyline fill="none" stroke="#0aaa70" stroke-width="5.7" stroke-linejoin="round" stroke-linecap="round" points="204.0,1220.0 205.2,1221.1 206.5,1217.6 207.8,1215.5 209.0,1215.2 210.2,1219.0 211.5,1216.7 212.8,1217.1 214.0,1214.7 215.2,1215.6 216.5,1212.6 217.8,1215.4 219.0,1215.2 220.2,1211.8 221.5,1213.4 222.8,1211.6 224.0,1210.6 225.2,1212.8 226.5,1211.1 227.8,1212.2 229.0,1211.3 230.2,1211.6 231.5,1210.1 232.8,1207.4 234.0,1209.1 235.2,1207.3 236.5,1207.7 237.8,1203.9 239.0,1202.3 240.2,1204.2 241.5,1205.5 242.8,1201.2 244.0,1200.9 245.2,1200.7 246.5,1198.9 247.8,1198.6 249.0,1196.4 250.2,1198.6 251.5,1196.3 252.8,1194.4 254.0,1194.0 255.2,1194.5 256.5,1195.7 257.8,1193.5 259.0,1191.4 260.2,1192.2 261.5,1192.2 262.8,1190.7 264.0,1188.9 265.2,1189.7 266.5,1186.6 267.8,1189.6 269.0,1185.6 270.2,1187.3 271.5,1184.9 272.8,1186.2 274.0,1185.4 275.2,1183.4 276.5,1182.9 277.8,1181.0 279.0,1180.1 280.2,1179.2 281.5,1180.3 282.8,1178.5 284.0,1179.1 285.2,1177.2 286.5,1180.2 287.8,1179.4 289.0,1179.8 290.2,1177.9 291.5,1175.0 292.8,1175.3 294.0,1173.2 295.2,1171.2 296.5,1169.6 297.8,1168.6 299.0,1169.9 300.2,1168.4 301.5,1170.9 302.8,1170.0 304.0,1167.4 305.2,1166.2 306.5,1166.6 307.8,1165.6 309.0,1160.6 310.2,1162.0 311.5,1162.6 312.8,1160.6 314.0,1161.8 315.2,1157.9 316.5,1155.4 317.8,1155.8 319.0,1155.7 320.2,1152.8 321.5,1154.6 322.8,1154.1 324.0,1153.5 325.2,1150.1 326.5,1150.1 327.8,1147.1 329.0,1146.9 330.2,1143.8 331.5,1142.6 332.8,1140.3 334.0,1143.2 335.2,1139.3 336.5,1138.2 337.8,1139.1 339.0,1137.3 340.2,1138.2 341.5,1135.2 342.8,1134.0 344.0,1133.7 345.2,1131.5 346.5,1132.4 347.8,1131.2 349.0,1130.2 350.2,1126.3 351.5,1124.8 352.8,1124.8 354.0,1126.0 355.2,1122.2 356.5,1123.9 357.8,1124.1 359.0,1122.4 360.2,1124.3 361.5,1119.7 362.8,1118.8 364.0,1120.4 365.2,1121.8 366.5,1121.0 367.8,1119.7 369.0,1119.3 370.2,1119.7 371.5,1121.5 372.8,1118.8 374.0,1118.4 375.2,1115.7 376.5,1114.6 377.8,1116.6 379.0,1113.3 380.2,1114.2 381.5,1111.2 382.8,1111.9 384.0,1107.2 385.2,1105.7 386.5,1105.0 387.8,1102.5 389.0,1101.0 390.2,1100.8 391.5,1097.9 392.8,1100.0 394.0,1100.0 395.2,1097.9 396.5,1096.6 397.8,1098.3 399.0,1097.5 400.2,1095.3 401.5,1096.6 402.8,1093.3 404.0,1090.6 405.2,1094.6 406.5,1094.2 407.8,1094.8 409.0,1095.0 410.2,1095.3 411.5,1092.3 412.8,1092.6 414.0,1093.3 415.2,1093.0 416.5,1090.2 417.8,1090.3 419.0,1090.5 420.2,1090.9 421.5,1092.1 422.8,1091.0 424.0,1087.9 425.2,1089.1 426.5,1088.9 427.8,1088.0 429.0,1087.0 430.2,1085.1 431.5,1086.0 432.8,1088.0 434.0,1084.0 435.2,1082.0 436.5,1082.1 437.8,1079.9 439.0,1080.8 440.2,1079.2 441.5,1079.8 442.8,1080.1 444.0,1079.7 445.2,1079.0 446.5,1076.1 447.8,1074.6 449.0,1074.7 450.2,1075.4 451.5,1075.1 452.8,1072.1 454.0,1070.8 455.2,1070.3 456.5,1070.2 457.8,1072.1 459.0,1068.2 460.2,1065.9 461.5,1065.2 462.8,1064.5 464.0,1066.8 465.2,1063.2 466.5,1063.4 467.8,1061.4 469.0,1062.7 470.2,1065.7 471.5,1062.3 472.8,1064.4 474.0,1064.1 475.2,1059.5 476.5,1062.0 477.8,1060.3 479.0,1060.0 480.2,1058.9 481.5,1057.5 482.8,1057.1 484.0,1055.7 485.2,1054.6 486.5,1056.6 487.8,1055.7 489.0,1057.3 490.2,1055.5 491.5,1057.0 492.8,1055.6 494.0,1055.7 495.2,1055.2 496.5,1051.5 497.8,1053.2 499.0,1049.0 500.2,1049.9 501.5,1048.6 502.8,1049.0 504.0,1048.0 505.2,1047.2 506.5,1048.1 507.8,1046.3 509.0,1046.6 510.2,1049.3 511.5,1044.3 512.8,1045.3 514.0,1040.4 515.2,1039.7 516.5,1038.5 517.8,1037.5 519.0,1040.3 520.2,1040.6 521.5,1037.7 522.8,1039.8 524.0,1039.3 525.2,1039.3 526.5,1037.7 527.8,1037.3 529.0,1033.0 530.2,1034.0 531.5,1035.3 532.8,1034.3 534.0,1035.4 535.2,1033.4 536.5,1034.1 537.8,1033.9 539.0,1033.2 540.2,1031.6 541.5,1030.4 542.8,1029.3 544.0,1031.2 545.2,1029.3 546.5,1029.3 547.8,1027.3 549.0,1026.5 550.2,1029.2 551.5,1031.3 552.8,1030.2 554.0,1030.8 555.2,1030.4 556.5,1029.9 557.8,1029.8 559.0,1024.5 560.2,1025.8 561.5,1025.5 562.8,1025.6 564.0,1022.5 565.2,1021.6 566.5,1022.0 567.8,1020.0 569.0,1019.1 570.2,1017.9 571.5,1015.7 572.8,1016.4 574.0,1017.1 575.2,1015.6 576.5,1016.7 577.8,1013.2 579.0,1012.0 580.2,1011.1 581.5,1009.2 582.8,1008.7 584.0,1011.7 585.2,1010.9 586.5,1011.7 587.8,1009.8 589.0,1010.3 590.2,1008.4 591.5,1007.3 592.8,1005.5 594.0,1006.7 595.2,1006.4 596.5,1005.9 597.8,1004.9 599.0,1004.2 600.2,1002.3 601.5,1001.7 602.8,1001.7 604.0,1003.0 605.2,1001.0 606.5,1001.8 607.8,998.7 609.0,998.8 610.2,1000.5 611.5,1000.7 612.8,1000.6 614.0,998.2 615.2,997.5 616.5,996.9 617.8,997.2 619.0,998.9 620.2,998.9 621.5,995.9 622.8,996.1 624.0,994.3 625.2,992.4 626.5,992.3 627.8,989.6 629.0,989.8 630.2,990.7 631.5,989.3 632.8,987.3 634.0,987.5 635.2,986.9 636.5,986.8 637.8,986.4 639.0,985.7 640.2,986.1 641.5,983.7 642.8,982.9 644.0,979.4 645.2,981.5 646.5,981.3 647.8,979.7 649.0,980.6 650.2,976.7 651.5,978.9 652.8,977.1 654.0,973.6 655.2,971.7 656.5,970.3 657.8,971.8 659.0,973.3 660.2,972.0 661.5,969.8 662.8,969.0 664.0,966.1 665.2,966.9 666.5,966.9 667.8,962.2 669.0,961.6 670.2,961.8 671.5,960.3 672.8,959.7 674.0,958.7 675.2,956.1 676.5,952.8 677.8,954.7 679.0,952.6 680.2,950.0 681.5,952.0 682.8,951.7 684.0,951.5 685.2,952.8 686.5,948.6 687.8,950.6 689.0,948.9 690.2,948.9 691.5,948.5 692.8,944.8 694.0,946.6 695.2,946.6 696.5,945.2 697.8,944.4 699.0,939.6 700.2,939.3 701.5,939.5 702.8,936.1 704.0,938.2 705.2,937.8 706.5,935.5 707.8,936.2 709.0,934.3 710.2,932.2 711.5,931.9 712.8,928.2 714.0,928.5 715.2,930.2 716.5,926.8 717.8,925.3 719.0,925.9 720.2,927.2 721.5,927.1 722.8,926.4 724.0,922.8 725.2,923.2 726.5,919.4 727.8,920.3 729.0,917.0 730.2,915.6 731.5,916.2 732.8,914.0 734.0,915.0 735.2,911.3 736.5,911.8 737.8,908.5 739.0,911.4 740.2,908.5 741.5,909.8 742.8,904.8 744.0,903.3 745.2,903.3 746.5,902.3 747.8,901.3 749.0,900.0 750.2,898.8 751.5,897.2 752.8,895.5 754.0,894.1 755.2,895.7 756.5,893.5 757.8,892.0 759.0,894.9 760.2,894.0 761.5,889.3 762.8,888.3 764.0,885.9 765.2,884.1 766.5,885.6 767.8,886.9 769.0,886.1 770.2,884.6 771.5,886.5 772.8,884.0 774.0,885.2 775.2,883.9 776.5,885.4 777.8,881.1 779.0,879.6 780.2,880.4 781.5,881.1 782.8,880.7 784.0,881.2 785.2,876.3 786.5,879.4 787.8,876.1 789.0,876.3 790.2,877.2 791.5,876.1 792.8,877.2 794.0,876.5 795.2,871.7 796.5,869.8 797.8,871.1 799.0,871.6 800.2,872.2 801.5,870.6 802.8,871.2 804.0,868.5 805.2,864.1 806.5,862.5 807.8,863.0 809.0,862.4 810.2,862.0 811.5,863.8 812.8,860.3 814.0,859.9 815.2,858.4 816.5,860.1 817.8,859.5 819.0,855.3 820.2,856.6 821.5,857.9 822.8,854.2 824.0,856.0 825.2,853.4 826.5,851.8 827.8,851.6 829.0,850.0 830.2,850.9 831.5,849.9 832.8,849.8 834.0,847.6 835.2,847.3 836.5,845.8 837.8,848.8 839.0,846.8 840.2,846.1 841.5,846.0 842.8,844.8 844.0,845.8 845.2,844.7 846.5,842.2 847.8,841.5 849.0,843.4 850.2,841.6 851.5,839.9 852.8,839.1 854.0,840.6 855.2,839.0 856.5,839.5 857.8,839.0 859.0,837.7 860.2,834.5 861.5,835.1 862.8,831.7 864.0,832.6 865.2,829.9 866.5,830.2 867.8,831.0 869.0,829.5 870.2,828.8 871.5,827.2 872.8,825.0 874.0,824.3 875.2,826.6 876.5,825.3 877.8,824.0 879.0,825.4 880.2,823.4 881.5,825.2 882.8,824.0 884.0,822.6 885.2,822.9 886.5,819.7 887.8,819.7 889.0,818.7 890.2,817.0 891.5,814.8 892.8,814.3 894.0,816.5 895.2,815.1 896.5,812.2 897.8,809.8 899.0,809.3 900.2,805.8 901.5,807.7 902.8,803.7 904.0,803.6 905.2,800.6 906.5,796.9 907.8,796.9 909.0,794.3 910.2,792.4 911.5,794.2 912.8,790.4 914.0,788.9 915.2,787.5 916.5,788.4 917.8,790.8 919.0,790.2 920.2,789.0 921.5,787.5 922.8,785.9 924.0,786.4 925.2,784.3 926.5,783.8 927.8,784.8 929.0,784.3 930.2,781.6 931.5,783.7 932.8,779.0 934.0,779.2 935.2,777.9 936.5,779.6 937.8,778.5 939.0,775.4 940.2,774.1 941.5,774.0 942.8,772.0 944.0,773.1 945.2,773.5 946.5,772.6 947.8,773.0 949.0,773.3 950.2,768.3 951.5,770.9 952.8,769.0 954.0,768.1 955.2,766.3 956.5,764.8 957.8,762.7 959.0,763.0 960.2,764.0 961.5,760.5 962.8,760.5 964.0,762.2 965.2,762.2 966.5,760.7 967.8,758.8 969.0,759.2 970.2,757.9 971.5,756.5 972.8,758.4 974.0,759.5 975.2,755.1 976.5,755.9 977.8,757.7 979.0,757.3 980.2,756.6 981.5,753.0 982.8,751.5 984.0,752.3 985.2,753.7 986.5,751.1 987.8,749.7 989.0,752.5 990.2,752.3 991.5,748.5 992.8,747.0 994.0,750.1 995.2,749.2 996.5,746.8 997.8,745.6 999.0,745.2 1000.2,746.7 1001.5,744.5 1002.8,744.2 1004.0,743.0 1005.2,745.1 1006.5,740.6 1007.8,740.5 1009.0,741.8 1010.2,741.6 1011.5,738.4 1012.8,738.2 1014.0,736.9 1015.2,739.8 1016.5,739.9 1017.8,739.6 1019.0,738.6 1020.2,736.8 1021.5,739.6 1022.8,738.0 1024.0,735.3 1025.2,738.7 1026.5,738.3 1027.8,739.4 1029.0,735.4 1030.2,734.3 1031.5,733.3 1032.8,735.3 1034.0,733.8 1035.2,732.1 1036.5,733.4 1037.8,733.6 1039.0,730.3 1040.2,728.7 1041.5,730.6 1042.8,727.3 1044.0,727.7 1045.2,729.5 1046.5,726.1 1047.8,727.8 1049.0,724.1 1050.2,725.1 1051.5,722.3 1052.8,721.0 1054.0,721.1 1055.2,721.0 1056.5,718.1 1057.8,717.4 1059.0,716.9 1060.2,719.3 1061.5,717.8 1062.8,718.2 1064.0,716.5 1065.2,713.9 1066.5,713.9 1067.8,714.4 1069.0,712.3 1070.2,712.9 1071.5,710.0 1072.8,710.0 1074.0,711.7 1075.2,711.0 1076.5,708.3 1077.8,709.6 1079.0,710.7 1080.2,709.1 1081.5,706.5 1082.8,706.6 1084.0,707.5 1085.2,703.0 1086.5,703.9 1087.8,703.7 1089.0,703.8 1090.2,706.1 1091.5,704.1 1092.8,705.4 1094.0,708.3 1095.2,708.3 1096.5,706.2 1097.8,702.6 1099.0,702.8 1100.2,702.1 1101.5,698.9 1102.8,696.9 1104.0,697.7 1105.2,699.5 1106.5,699.3 1107.8,698.6 1109.0,695.9 1110.2,698.0 1111.5,696.9 1112.8,693.9 1114.0,691.7 1115.2,692.6 1116.5,693.4 1117.8,692.0 1119.0,691.4 1120.2,687.6 1121.5,690.8 1122.8,689.1 1124.0,688.1 1125.2,686.5 1126.5,688.1 1127.8,687.6 1129.0,685.6 1130.2,684.8 1131.5,682.5 1132.8,681.2 1134.0,681.2 1135.2,680.6 1136.5,678.9 1137.8,677.3 1139.0,678.3 1140.2,676.2 1141.5,675.1 1142.8,673.1 1144.0,669.9 1145.2,671.1 1146.5,672.5 1147.8,671.0 1149.0,668.1 1150.2,668.9 1151.5,668.4 1152.8,668.4 1154.0,668.0 1155.2,665.9 1156.5,665.8 1157.8,666.2 1159.0,665.9 1160.2,662.0 1161.5,663.5 1162.8,661.0 1164.0,659.8 1165.2,660.9 1166.5,661.5 1167.8,657.3 1169.0,658.8 1170.2,658.7 1171.5,655.5 1172.8,657.0 1174.0,656.7 1175.2,655.2 1176.5,654.9 1177.8,652.4 1179.0,654.6 1180.2,651.9 1181.5,650.4 1182.8,649.0 1184.0,650.3 1185.2,650.5 1186.5,652.6 1187.8,648.6 1189.0,648.4 1190.2,651.6 1191.5,650.8 1192.8,649.2 1194.0,650.0 1195.2,648.5 1196.5,651.1 1197.8,648.7 1199.0,649.0 1200.2,646.2 1201.5,644.7 1202.8,646.6 1204.0,642.1 1205.2,642.8 1206.5,640.5 1207.8,637.0 1209.0,638.2 1210.2,636.9 1211.5,633.1 1212.8,628.7 1214.0,626.1 1215.2,628.3 1216.5,631.1 1217.8,635.4 1219.0,639.1 1220.2,639.1 1221.5,635.4 1222.8,635.9 1224.0,634.0 1225.2,632.4 1226.5,630.6 1227.8,632.0 1229.0,628.8 1230.2,625.2 1231.5,626.3 1232.8,621.4 1234.0,621.5 1235.2,618.1 1236.5,616.0 1237.8,618.1 1239.0,617.5 1240.2,614.6 1241.5,612.2 1242.8,611.7 1244.0,611.2 1245.2,610.5 1246.5,611.4 1247.8,610.5 1249.0,612.5 1250.2,610.1 1251.5,608.7 1252.8,608.7 1254.0,606.6 1255.2,605.8 1256.5,607.4 1257.8,605.0 1259.0,606.0 1260.2,604.7 1261.5,604.4 1262.8,602.0 1264.0,602.0 1265.2,603.4 1266.5,602.1 1267.8,601.0 1269.0,596.6 1270.2,598.5 1271.5,595.1 1272.8,594.3 1274.0,590.1 1275.2,589.4 1276.5,587.6 1277.8,586.3 1279.0,587.2 1280.2,583.4 1281.5,584.7 1282.8,584.4 1284.0,584.5 1285.2,586.0 1286.5,592.4 1287.8,593.9 1289.0,594.4 1290.2,594.0 1291.5,592.1 1292.8,591.1 1294.0,589.1 1295.2,587.9 1296.5,584.5 1297.8,585.9 1299.0,584.7 1300.2,582.2 1301.5,579.4 1302.8,579.6 1304.0,579.3 1305.2,577.6 1306.5,575.9 1307.8,571.5 1309.0,572.7 1310.2,571.5 1311.5,569.7 1312.8,569.7 1314.0,567.4 1315.2,570.0 1316.5,570.5 1317.8,570.2 1319.0,570.7 1320.2,569.1 1321.5,567.2 1322.8,566.2 1324.0,568.7 1325.2,565.9 1326.5,566.6 1327.8,567.9 1329.0,566.0 1330.2,563.2 1331.5,561.7 1332.8,562.8 1334.0,563.5 1335.2,563.9 1336.5,563.6 1337.8,561.7 1339.0,559.8 1340.2,559.9 1341.5,558.4 1342.8,553.3 1344.0,551.8 1345.2,551.7 1346.5,549.4 1347.8,546.4 1349.0,545.1 1350.2,545.5 1351.5,544.6 1352.8,542.2 1354.0,539.7 1355.2,538.7 1356.5,536.4 1357.8,534.8 1359.0,534.2 1360.2,533.0 1361.5,533.5 1362.8,538.6 1364.0,537.0 1365.2,538.3 1366.5,541.4 1367.8,540.5 1369.0,539.4 1370.2,535.5 1371.5,534.5 1372.8,534.3 1374.0,531.9 1375.2,529.8 1376.5,528.7 1377.8,526.5 1379.0,523.3 1380.2,522.3 1381.5,520.7 1382.8,520.5 1384.0,520.3 1385.2,517.1 1386.5,516.8 1387.8,517.5 1389.0,515.8 1390.2,515.2 1391.5,513.7 1392.8,512.7 1394.0,513.0 1395.2,508.9 1396.5,509.8 1397.8,504.8 1399.0,503.1 1400.2,501.0 1401.5,498.0 1402.8,496.8 1404.0,494.7 1405.2,492.5 1406.5,492.8 1407.8,493.2 1409.0,494.4 1410.2,493.9 1411.5,496.4 1412.8,493.4 1414.0,494.0 1415.2,494.2 1416.5,491.6 1417.8,492.6 1419.0,491.2 1420.2,489.8 1421.5,488.4 1422.8,490.0 1424.0,486.9 1425.2,487.4 1426.5,486.8 1427.8,486.4 1429.0,483.1 1430.2,481.7 1431.5,481.1 1432.8,481.1 1434.0,482.2 1435.2,479.9 1436.5,475.7 1437.8,473.8 1439.0,474.0 1440.2,475.4 1441.5,474.4 1442.8,471.3 1444.0,470.2 1445.2,468.5 1446.5,471.2 1447.8,467.7 1449.0,469.4 1450.2,469.7 1451.5,467.6 1452.8,464.9 1454.0,464.9 1455.2,463.8 1456.5,462.2 1457.8,462.2 1459.0,462.0 1460.2,462.9 1461.5,459.5 1462.8,457.5 1464.0,460.8 1465.2,460.4 1466.5,460.1 1467.8,458.7 1469.0,455.6 1470.2,456.7 1471.5,454.0 1472.8,452.8 1474.0,453.4 1475.2,452.8 1476.5,450.3 1477.8,448.9 1479.0,450.6 1480.2,448.9 1481.5,448.2 1482.8,448.2 1484.0,445.3 1485.2,444.4 1486.5,441.8 1487.8,441.1 1489.0,442.3 1490.2,441.0 1491.5,437.5 1492.8,438.6 1494.0,438.9 1495.2,437.2 1496.5,436.4 1497.8,433.7 1499.0,436.5 1500.2,435.5 1501.5,430.8 1502.8,429.8 1504.0,428.7 1505.2,429.8 1506.5,428.7 1507.8,428.6 1509.0,426.6 1510.2,426.4 1511.5,425.9 1512.8,426.0 1514.0,424.1 1515.2,421.7 1516.5,424.1 1517.8,421.5 1519.0,421.4 1520.2,421.3 1521.5,421.3 1522.8,422.0 1524.0,421.1 1525.2,418.4 1526.5,419.3 1527.8,419.8 1529.0,419.0 1530.2,414.9 1531.5,414.3 1532.8,414.6 1534.0,415.8 1535.2,417.8 1536.5,416.1 1537.8,414.3 1539.0,416.0 1540.2,415.5 1541.5,414.7 1542.8,411.9 1544.0,411.9 1545.2,410.6 1546.5,413.0 1547.8,408.9 1549.0,408.5 1550.2,411.4 1551.5,412.1 1552.8,407.6 1554.0,407.9 1555.2,409.7 1556.5,405.6 1557.8,407.4 1559.0,405.7 1560.2,406.9 1561.5,406.6 1562.8,407.1 1564.0,405.4 1565.2,403.1 1566.5,403.6 1567.8,402.9 1569.0,401.8 1570.2,398.5 1571.5,396.1 1572.8,397.8 1574.0,398.4 1575.2,398.8 1576.5,399.5 1577.8,402.3 1579.0,405.0 1580.2,401.4 1581.5,401.0 1582.8,402.6 1584.0,401.9 1585.2,402.6 1586.5,401.3 1587.8,401.8 1589.0,400.1 1590.2,398.0 1591.5,396.2 1592.8,399.3 1594.0,399.4 1595.2,395.3 1596.5,394.2 1597.8,394.1 1599.0,394.9 1600.2,394.1 1601.5,391.6 1602.8,394.2 1604.0,391.9 1605.2,392.8 1606.5,388.7 1607.8,387.1 1609.0,387.0 1610.2,385.1 1611.5,385.9 1612.8,384.3 1614.0,382.5 1615.2,383.4 1616.5,381.2 1617.8,382.4 1619.0,379.9 1620.2,377.3 1621.5,376.3 1622.8,378.5 1624.0,378.0 1625.2,375.3 1626.5,374.4 1627.8,374.1 1629.0,369.8 1630.2,367.9 1631.5,368.8 1632.8,366.8 1634.0,367.9 1635.2,366.7 1636.5,362.7 1637.8,363.0 1639.0,362.0 1640.2,360.4 1641.5,359.4 1642.8,360.6 1644.0,356.5 1645.2,356.3 1646.5,358.3 1647.8,358.7 1649.0,354.0 1650.2,356.7 1651.5,354.1 1652.8,354.0 1654.0,352.3 1655.2,353.3 1656.5,349.9 1657.8,349.8 1659.0,346.4 1660.2,345.5 1661.5,346.6 1662.8,345.3 1664.0,342.9 1665.2,344.8 1666.5,342.3 1667.8,342.6 1669.0,341.2 1670.2,340.8 1671.5,341.4 1672.8,338.3 1674.0,336.1 1675.2,333.5 1676.5,332.3 1677.8,331.3 1679.0,330.7 1680.2,330.1 1681.5,327.7 1682.8,326.4 1684.0,324.6 1685.2,322.2 1686.5,318.2 1687.8,315.5 1689.0,312.3 1690.2,307.0 1691.5,305.3 1692.8,304.6 1694.0,304.4 1695.2,304.0 1696.5,300.1 1697.8,301.0 1699.0,299.6 1700.2,296.0 1701.5,294.1 1702.8,291.2 1704.0,289.1 1705.2,290.4 1706.5,287.4 1707.8,284.7 1709.0,286.8 1710.2,282.9 1711.5,283.6 1712.8,279.6 1714.0,281.1 1715.2,283.0 1716.5,279.3 1717.8,277.9 1719.0,276.0 1720.2,275.9 1721.5,276.0 1722.8,277.6 1724.0,277.9 1725.2,277.4 1726.5,275.4 1727.8,272.7 1729.0,273.0 1730.2,271.4 1731.5,272.2 1732.8,271.0 1734.0,271.0 1735.2,270.9 1736.5,270.9 1737.8,271.4 1739.0,268.1 1740.2,269.8 1741.5,269.3 1742.8,269.0 1744.0,268.1 1745.2,266.8 1746.5,270.4 1747.8,270.0 1749.0,268.7 1750.2,267.6 1751.5,268.2 1752.8,269.6 1754.0,267.9 1755.2,267.8 1756.5,271.9 1757.8,268.9 1759.0,267.6 1760.2,266.9 1761.5,269.1 1762.8,268.7 1764.0,267.1 1765.2,266.0 1766.5,268.3 1767.8,267.7 1769.0,267.2 1770.2,264.8 1771.5,266.2 1772.8,260.3 1774.0,259.3 1775.2,257.5 1776.5,254.1 1777.8,252.1 1779.0,248.7 1780.2,247.1 1781.5,245.2 1782.8,243.4 1784.0,242.7 1785.2,244.1 1786.5,240.2 1787.8,241.0 1789.0,240.7 1790.2,236.6 1791.5,235.9 1792.8,236.4 1794.0,235.6 1795.2,231.6 1796.5,232.8 1797.8,230.1 1799.0,230.0 1800.2,227.8 1801.5,227.9 1802.8,228.1 1804.0,226.5 1805.2,227.0 1806.5,226.6 1807.8,227.2 1809.0,224.8 1810.2,225.6 1811.5,221.3 1812.8,219.9 1814.0,222.1 1815.2,220.2 1816.5,218.7 1817.8,221.8 1819.0,219.9 1820.2,220.9 1821.5,219.9 1822.8,218.5 1823.5,216.4"/>
<g fill="#0000ff">
<polygon points="183.0,1208.2 225.0,1208.2 204.0,1244.8"/>
<polygon points="300.7,1141.2 342.7,1141.2 321.7,1177.8"/>
<polygon points="418.5,1069.5 460.5,1069.5 439.5,1106.1"/>
<polygon points="536.2,1014.6 578.2,1014.6 557.2,1051.2"/>
<polygon points="653.9,942.8 695.9,942.8 674.9,979.4"/>
<polygon points="771.6,863.1 813.6,863.1 792.6,899.7"/>
<polygon points="889.4,781.6 931.4,781.6 910.4,818.2"/>
<polygon points="1007.1,725.1 1049.1,725.1 1028.1,761.7"/>
<polygon points="1124.8,658.5 1166.8,658.5 1145.8,695.1"/>
<polygon points="1242.6,590.0 1284.6,590.0 1263.6,626.6"/>
<polygon points="1360.3,509.9 1402.3,509.9 1381.3,546.5"/>
<polygon points="1478.0,422.3 1520.0,422.3 1499.0,458.9"/>
<polygon points="1595.8,369.2 1637.8,369.2 1616.8,405.8"/>
<polygon points="1713.5,257.6 1755.5,257.6 1734.5,294.2"/>
</g>
</g>
<rect x="204.3" y="50.0" width="1798.7" height="1448.0" fill="none" stroke="#000" stroke-width="5.3"/>
<g stroke="#000" stroke-width="5.2">
<line x1="354.2" y1="1498.0" x2="354.2" y2="1469.0"/>
<line x1="504.1" y1="1498.0" x2="504.1" y2="1469.0"/>
<line x1="654.0" y1="1498.0" x2="654.0" y2="1469.0"/>
<line x1="803.9" y1="1498.0" x2="803.9" y2="1469.0"/>
<line x1="953.8" y1="1498.0" x2="953.8" y2="1469.0"/>
<line x1="1103.7" y1="1498.0" x2="1103.7" y2="1469.0"/>
<line x1="1253.5" y1="1498.0" x2="1253.5" y2="1469.0"/>
<line x1="1403.4" y1="1498.0" x2="1403.4" y2="1469.0"/>
<line x1="1553.3" y1="1498.0" x2="1553.3" y2="1469.0"/>
<line x1="1703.2" y1="1498.0" x2="1703.2" y2="1469.0"/>
<line x1="1853.1" y1="1498.0" x2="1853.1" y2="1469.0"/>
<line x1="204.3" y1="1394.6" x2="232.0" y2="1394.6"/>
<line x1="204.3" y1="1291.1" x2="232.0" y2="1291.1"/>
<line x1="204.3" y1="1187.7" x2="232.0" y2="1187.7"/>
<line x1="204.3" y1="1084.3" x2="232.0" y2="1084.3"/>
<line x1="204.3" y1="980.9" x2="232.0" y2="980.9"/>
<line x1="204.3" y1="877.4" x2="232.0" y2="877.4"/>
<line x1="204.3" y1="774.0" x2="232.0" y2="774.0"/>
<line x1="204.3" y1="670.6" x2="232.0" y2="670.6"/>
<line x1="204.3" y1="567.1" x2="232.0" y2="567.1"/>
<line x1="204.3" y1="463.7" x2="232.0" y2="463.7"/>
<line x1="204.3" y1="360.3" x2="232.0" y2="360.3"/>
<line x1="204.3" y1="256.9" x2="232.0" y2="256.9"/>
<line x1="204.3" y1="153.4" x2="232.0" y2="153.4"/>
</g>
<g font-size="62.0" text-anchor="middle">
<text transform="translate(204.0,1575) scale(0.985,1)">0</text>
<text transform="translate(353.9,1575) scale(0.985,1)">250</text>
<text transform="translate(503.8,1575) scale(0.985,1)">500</text>
<text transform="translate(653.7,1575) scale(0.985,1)">750</text>
<text transform="translate(803.6,1575) scale(0.985,1)">1000</text>
<text transform="translate(953.5,1575) scale(0.985,1)">1250</text>
<text transform="translate(1103.4,1575) scale(0.985,1)">1500</text>
<text transform="translate(1253.2,1575) scale(0.985,1)">1750</text>
<text transform="translate(1403.1,1575) scale(0.985,1)">2000</text>
<text transform="translate(1553.0,1575) scale(0.985,1)">2250</text>
<text transform="translate(1702.9,1575) scale(0.985,1)">2500</text>
<text transform="translate(1852.8,1575) scale(0.985,1)">2750</text>
<text transform="translate(2002.7,1575) scale(0.985,1)">3000</text>
</g>
<g font-size="62.0" text-anchor="end">
<text transform="translate(172.3,1515.2) scale(0.985,1)">4</text>
<text transform="translate(172.3,1411.8) scale(0.985,1)">5</text>
<text transform="translate(172.3,1308.3) scale(0.985,1)">6</text>
<text transform="translate(172.3,1204.9) scale(0.985,1)">7</text>
<text transform="translate(172.3,1101.5) scale(0.985,1)">8</text>
<text transform="translate(172.3,998.1) scale(0.985,1)">9</text>
<text transform="translate(172.3,894.6) scale(0.985,1)">10</text>
<text transform="translate(172.3,791.2) scale(0.985,1)">11</text>
<text transform="translate(172.3,687.8) scale(0.985,1)">12</text>
<text transform="translate(172.3,584.3) scale(0.985,1)">13</text>
<text transform="translate(172.3,480.9) scale(0.985,1)">14</text>
<text transform="translate(172.3,377.5) scale(0.985,1)">15</text>
<text transform="translate(172.3,274.1) scale(0.985,1)">16</text>
<text transform="translate(172.3,170.6) scale(0.985,1)">17</text>
<text transform="translate(172.3,67.2) scale(0.985,1)">18</text>
</g>
<text x="1088.7" y="1660" font-size="76" text-anchor="middle">Times (s)</text>
<text transform="translate(80,773.5) rotate(-90)" font-size="75.5" text-anchor="middle">Dissolved oxygen concentration (mg/L)</text>
<text x="1870.3" y="256.5" font-size="75.5">Q2</text>
<text x="1870.3" y="782" font-size="75.5">Q1</text>
<rect x="378" y="125.7" width="604.8" height="345.8" fill="#303030"/>
<rect x="357.2" y="104.9" width="605.3" height="346.2" fill="#fff" stroke="#1a1a1a" stroke-width="1.8"/>
<line x1="366.2" y1="152.4" x2="518.2" y2="152.4" stroke="#000000" stroke-width="5.6" stroke-linecap="round"/>
<g fill="#000000"><rect x="426.4" y="136.6" width="31.6" height="31.6"/></g>
<text transform="translate(535.5,173.6) scale(0.995,1)" font-size="68">EXP-H2D2Q1</text>
<line x1="366.2" y1="236.6" x2="518.2" y2="236.6" stroke="#ff0000" stroke-width="5.6" stroke-linecap="round"/>
<g fill="#ff0000"><circle cx="442.2" cy="236.6" r="17.6"/></g>
<text transform="translate(535.5,257.8) scale(0.995,1)" font-size="68">EXP-H1D2Q1</text>
<line x1="366.2" y1="320.7" x2="518.2" y2="320.7" stroke="#7a00dc" stroke-width="5.6" stroke-linecap="round"/>
<g fill="#00ff00"><polygon points="442.2,296.3 463.2,332.9 421.2,332.9"/></g>
<text transform="translate(535.5,341.9) scale(0.995,1)" font-size="68">EXP-H2D2Q2</text>
<line x1="366.2" y1="404.8" x2="518.2" y2="404.8" stroke="#00d68c" stroke-width="5.6" stroke-linecap="round"/>
<g fill="#3030ff"><polygon points="421.2,392.6 463.2,392.6 442.2,429.2"/></g>
<text transform="translate(535.5,426.0) scale(0.995,1)" font-size="68">EXP-H1D2Q2</text>
</svg></body></html>
